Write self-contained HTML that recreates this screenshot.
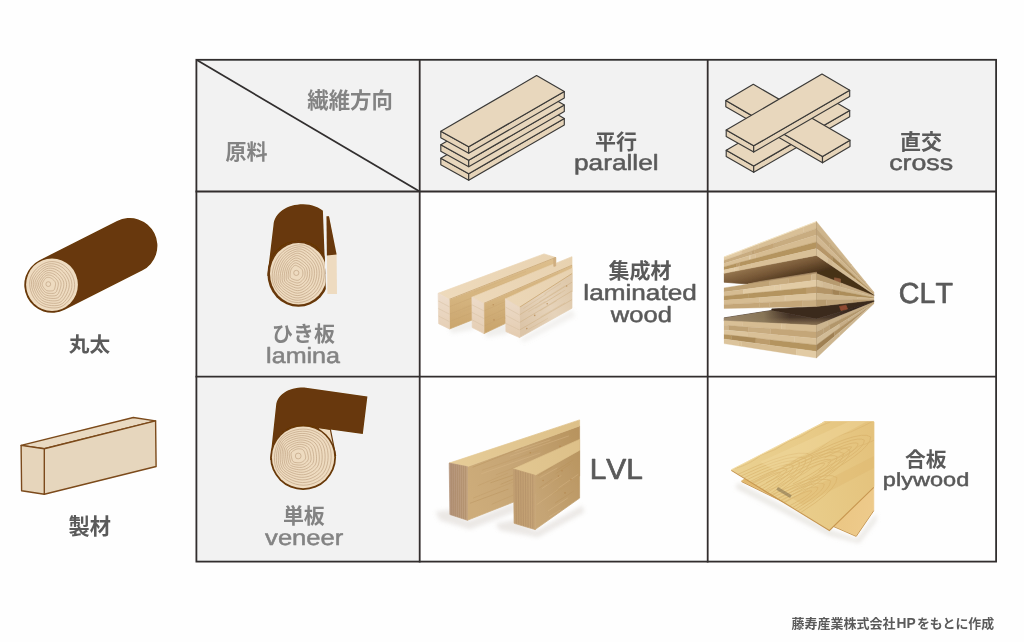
<!DOCTYPE html>
<html lang="ja">
<head>
<meta charset="utf-8">
<title>木質材料の分類 (繊維方向 × 原料)</title>
<style>
html,body{margin:0;padding:0;background:#fefefe;}
body{width:1024px;height:642px;overflow:hidden;font-family:"Liberation Sans",sans-serif;}
svg{display:block;}
.en{font-family:"Liberation Sans",sans-serif;text-rendering:geometricPrecision;font-kerning:none;}
.jp{font-family:"Liberation Sans","Noto Sans CJK JP",sans-serif;font-weight:bold;}
</style>
</head>
<body>
<svg width="1024" height="642" viewBox="0 0 1024 642">
<rect width="1024" height="642" fill="#fefefe"/>
<defs>
<filter id="txtsoft" filterUnits="userSpaceOnUse" x="0" y="0" width="1024" height="642"><feGaussianBlur stdDeviation="0.3"/></filter>
<filter id="soft" x="-5%" y="-5%" width="110%" height="110%"><feGaussianBlur stdDeviation="0.45"/></filter>
<filter id="shadow" x="-20%" y="-50%" width="140%" height="200%"><feGaussianBlur stdDeviation="2.2"/></filter>
<linearGradient id="glTop" gradientUnits="userSpaceOnUse" x1="440" y1="300" x2="572" y2="255"><stop offset="0" stop-color="#eedabc"/><stop offset="1" stop-color="#e8d2b0"/></linearGradient>
<linearGradient id="glSide" gradientUnits="userSpaceOnUse" x1="0" y1="262" x2="0" y2="334"><stop offset="0" stop-color="#dcbd8b"/><stop offset="0.5" stop-color="#d5b47f"/><stop offset="1" stop-color="#c8a36a"/></linearGradient>
<linearGradient id="glSide3" gradientUnits="userSpaceOnUse" x1="520" y1="322" x2="572" y2="290"><stop offset="0" stop-color="#dcc5a8"/><stop offset="0.55" stop-color="#e6d3ba"/><stop offset="1" stop-color="#dfc9ab"/></linearGradient>
<linearGradient id="glEnd" gradientUnits="userSpaceOnUse" x1="0" y1="295" x2="0" y2="338"><stop offset="0" stop-color="#eddccb"/><stop offset="1" stop-color="#e4ccb0"/></linearGradient>
<linearGradient id="lvTop" gradientUnits="userSpaceOnUse" x1="450" y1="465" x2="580" y2="422"><stop offset="0" stop-color="#e6cc98"/><stop offset="1" stop-color="#ddc088"/></linearGradient>
<linearGradient id="lvSide" gradientUnits="userSpaceOnUse" x1="467" y1="490" x2="580" y2="440"><stop offset="0" stop-color="#cdac7a"/><stop offset="0.5" stop-color="#c5a474"/><stop offset="1" stop-color="#b8945f"/></linearGradient>
<linearGradient id="lvEnd" gradientUnits="userSpaceOnUse" x1="449" y1="0" x2="468" y2="0"><stop offset="0" stop-color="#b3937a"/><stop offset="1" stop-color="#c0a07c"/></linearGradient>
<linearGradient id="lvEnd2" gradientUnits="userSpaceOnUse" x1="513" y1="0" x2="536" y2="0"><stop offset="0" stop-color="#c09d70"/><stop offset="1" stop-color="#c6a476"/></linearGradient>
<linearGradient id="plyTop" gradientUnits="userSpaceOnUse" x1="740" y1="470" x2="874" y2="440"><stop offset="0" stop-color="#ead090"/><stop offset="0.5" stop-color="#e8cb88"/><stop offset="1" stop-color="#e4c27c"/></linearGradient>
<linearGradient id="plyLow" gradientUnits="userSpaceOnUse" x1="745" y1="485" x2="874" y2="520"><stop offset="0" stop-color="#e2b96e"/><stop offset="1" stop-color="#eecb8c"/></linearGradient>
<linearGradient id="cltUnder" gradientUnits="userSpaceOnUse" x1="770" y1="262" x2="776" y2="284"><stop offset="0" stop-color="#93734c"/><stop offset="0.45" stop-color="#765736"/><stop offset="1" stop-color="#473019"/></linearGradient>
<linearGradient id="cltTop3" gradientUnits="userSpaceOnUse" x1="0" y1="309" x2="0" y2="326"><stop offset="0" stop-color="#33241a"/><stop offset="0.5" stop-color="#49372a"/><stop offset="0.85" stop-color="#7c6549"/><stop offset="1" stop-color="#8e7556"/></linearGradient>
<linearGradient id="cltTop3L" gradientUnits="userSpaceOnUse" x1="724" y1="0" x2="790" y2="0"><stop offset="0" stop-color="#9a866a"/><stop offset="0.6" stop-color="#93805f" stop-opacity="0.85"/><stop offset="1" stop-color="#8a7556" stop-opacity="0"/></linearGradient>
</defs>
<g id="table">
<rect x="196.4" y="59.8" width="799.7" height="131.7" fill="#f2f2f2"/>
<rect x="196.4" y="191.5" width="223.3" height="370.1" fill="#f2f2f2"/>
</g>
<g id="photos">
<g id="photo-glulam" filter="url(#soft)">
<g filter="url(#shadow)" fill="#d9d4cc" opacity="0.3"><polygon points="449,327 474,318 474,329 452,333" fill="#cfcac2" stroke="#cfcac2" stroke-width="0.7" stroke-linejoin="round"/>
<polygon points="484,331 508,322 508,333 487,337" fill="#cfcac2" stroke="#cfcac2" stroke-width="0.7" stroke-linejoin="round"/>
<polygon points="520,339 572,310 575,316 524,342" fill="#d6d1ca" stroke="#d6d1ca" stroke-width="0.7" stroke-linejoin="round"/>
</g>
<polygon points="449.2,299.4 555.7,257.5 555.7,287 449.5,329" fill="url(#glSide)" stroke="url(#glSide)" stroke-width="0.7" stroke-linejoin="round"/>
<line x1="449.3" y1="306.8" x2="555.7" y2="264.9" stroke="#c29f6c" stroke-width="0.6" opacity="0.55"/>
<line x1="449.4" y1="314.2" x2="555.7" y2="272.2" stroke="#c29f6c" stroke-width="0.6" opacity="0.55"/>
<line x1="449.4" y1="321.6" x2="555.7" y2="279.6" stroke="#c29f6c" stroke-width="0.6" opacity="0.55"/>
<line x1="488.8" y1="301.9" x2="537.6" y2="282.6" stroke="#c9a876" stroke-width="0.7" opacity="0.35"/>
<line x1="488.8" y1="310.5" x2="540.2" y2="290.1" stroke="#c9a876" stroke-width="0.7" opacity="0.35"/>
<line x1="474" y1="291.9" x2="526" y2="271.4" stroke="#c9a876" stroke-width="0.7" opacity="0.35"/>
<line x1="497.3" y1="299.3" x2="531.6" y2="285.7" stroke="#c9a876" stroke-width="0.7" opacity="0.35"/>
<line x1="462.5" y1="308.2" x2="505.9" y2="291.1" stroke="#c9a876" stroke-width="0.7" opacity="0.35"/>
<line x1="450.1" y1="315.9" x2="486.6" y2="301.5" stroke="#c9a876" stroke-width="0.7" opacity="0.35"/>
<line x1="498" y1="289.1" x2="546.3" y2="270.1" stroke="#c9a876" stroke-width="0.7" opacity="0.35"/>
<line x1="491.7" y1="288.4" x2="526.6" y2="274.7" stroke="#c9a876" stroke-width="0.7" opacity="0.35"/>
<line x1="456.1" y1="314.7" x2="488.1" y2="302.1" stroke="#c9a876" stroke-width="0.7" opacity="0.35"/>
<circle cx="534.1" cy="274.8" r="0.8" fill="#b98d58" opacity="0.8"/>
<circle cx="478.4" cy="312.8" r="0.8" fill="#b98d58" opacity="0.8"/>
<circle cx="534.2" cy="276.4" r="0.8" fill="#b98d58" opacity="0.8"/>
<circle cx="541.8" cy="278.5" r="0.8" fill="#b98d58" opacity="0.8"/>
<polygon points="438.1,293.3 544,253.9 555.7,257.5 449.2,299.4" fill="url(#glTop)" stroke="url(#glTop)" stroke-width="0.7" stroke-linejoin="round"/>
<line x1="449.2" y1="299.4" x2="555.7" y2="257.5" stroke="#c9a672" stroke-width="0.8"/>
<polygon points="438.1,293.3 449.2,299.4 449.5,329 438.7,323.7" fill="url(#glEnd)" stroke="url(#glEnd)" stroke-width="0.7" stroke-linejoin="round"/>
<line x1="438.2" y1="300.9" x2="449.3" y2="306.8" stroke="#d6bea0" stroke-width="0.7" opacity="0.7"/>
<line x1="438.4" y1="308.5" x2="449.4" y2="314.2" stroke="#d6bea0" stroke-width="0.7" opacity="0.7"/>
<line x1="438.6" y1="316.1" x2="449.4" y2="321.6" stroke="#d6bea0" stroke-width="0.7" opacity="0.7"/>
<polygon points="483.8,303.4 572,265.2 572,292 484,333.6" fill="url(#glSide)" stroke="url(#glSide)" stroke-width="0.7" stroke-linejoin="round"/>
<line x1="483.9" y1="310.9" x2="572" y2="271.9" stroke="#c29f6c" stroke-width="0.6" opacity="0.55"/>
<line x1="483.9" y1="318.5" x2="572" y2="278.6" stroke="#c29f6c" stroke-width="0.6" opacity="0.55"/>
<line x1="483.9" y1="326.1" x2="572" y2="285.3" stroke="#c29f6c" stroke-width="0.6" opacity="0.55"/>
<line x1="492.9" y1="319.2" x2="535.9" y2="299.4" stroke="#c9a876" stroke-width="0.7" opacity="0.35"/>
<line x1="526.5" y1="304.1" x2="568.7" y2="284.7" stroke="#c9a876" stroke-width="0.7" opacity="0.35"/>
<line x1="499.8" y1="305.9" x2="529.1" y2="292.8" stroke="#c9a876" stroke-width="0.7" opacity="0.35"/>
<line x1="486.7" y1="307.6" x2="518.5" y2="293.6" stroke="#c9a876" stroke-width="0.7" opacity="0.35"/>
<line x1="484.1" y1="321.2" x2="522.4" y2="303.7" stroke="#c9a876" stroke-width="0.7" opacity="0.35"/>
<line x1="497.5" y1="308" x2="538.4" y2="289.7" stroke="#c9a876" stroke-width="0.7" opacity="0.35"/>
<line x1="497.8" y1="311.7" x2="532.7" y2="295.9" stroke="#c9a876" stroke-width="0.7" opacity="0.35"/>
<line x1="486.4" y1="322.9" x2="530" y2="302.8" stroke="#c9a876" stroke-width="0.7" opacity="0.35"/>
<line x1="516.9" y1="291.1" x2="558.2" y2="273.1" stroke="#c9a876" stroke-width="0.7" opacity="0.35"/>
<circle cx="494" cy="319.9" r="0.8" fill="#b98d58" opacity="0.8"/>
<circle cx="518.5" cy="304.4" r="0.8" fill="#b98d58" opacity="0.8"/>
<circle cx="493.3" cy="304.8" r="0.8" fill="#b98d58" opacity="0.8"/>
<circle cx="505.5" cy="318.1" r="0.8" fill="#b98d58" opacity="0.8"/>
<polygon points="471.9,297.2 572,256.7 572,265.2 483.8,303.4" fill="url(#glTop)" stroke="url(#glTop)" stroke-width="0.7" stroke-linejoin="round"/>
<line x1="483.8" y1="303.4" x2="572" y2="265.2" stroke="#c9a672" stroke-width="0.8"/>
<polygon points="471.9,297.2 483.8,303.4 484,333.6 472.2,327.5" fill="url(#glEnd)" stroke="url(#glEnd)" stroke-width="0.7" stroke-linejoin="round"/>
<line x1="472" y1="304.8" x2="483.9" y2="310.9" stroke="#d6bea0" stroke-width="0.7" opacity="0.7"/>
<line x1="472" y1="312.4" x2="483.9" y2="318.5" stroke="#d6bea0" stroke-width="0.7" opacity="0.7"/>
<line x1="472.1" y1="319.9" x2="483.9" y2="326.1" stroke="#d6bea0" stroke-width="0.7" opacity="0.7"/>
<polygon points="519.5,307.3 572,273.6 572,308.2 519.5,337.6" fill="url(#glSide3)" stroke="url(#glSide3)" stroke-width="0.7" stroke-linejoin="round"/>
<line x1="519.5" y1="314.9" x2="572" y2="282.2" stroke="#c29f6c" stroke-width="0.6" opacity="0.55"/>
<line x1="519.5" y1="322.5" x2="572" y2="290.9" stroke="#c29f6c" stroke-width="0.6" opacity="0.55"/>
<line x1="519.5" y1="330" x2="572" y2="299.6" stroke="#c29f6c" stroke-width="0.6" opacity="0.55"/>
<line x1="539.3" y1="301.8" x2="564.8" y2="285.9" stroke="#c9a876" stroke-width="0.7" opacity="0.35"/>
<line x1="528.5" y1="329.4" x2="548" y2="318.3" stroke="#c9a876" stroke-width="0.7" opacity="0.35"/>
<line x1="539.9" y1="310.9" x2="556.7" y2="300.8" stroke="#c9a876" stroke-width="0.7" opacity="0.35"/>
<line x1="540.4" y1="317" x2="565.2" y2="302.6" stroke="#c9a876" stroke-width="0.7" opacity="0.35"/>
<line x1="544.3" y1="294" x2="561" y2="283.4" stroke="#c9a876" stroke-width="0.7" opacity="0.35"/>
<line x1="535.5" y1="308.3" x2="560.9" y2="292.7" stroke="#c9a876" stroke-width="0.7" opacity="0.35"/>
<line x1="543.8" y1="303.2" x2="565.2" y2="290.1" stroke="#c9a876" stroke-width="0.7" opacity="0.35"/>
<line x1="527.8" y1="312.2" x2="545.4" y2="301.4" stroke="#c9a876" stroke-width="0.7" opacity="0.35"/>
<line x1="523.4" y1="308.5" x2="546.4" y2="293.9" stroke="#c9a876" stroke-width="0.7" opacity="0.35"/>
<circle cx="566.6" cy="286" r="0.8" fill="#b98d58" opacity="0.8"/>
<circle cx="526.8" cy="328.6" r="0.8" fill="#b98d58" opacity="0.8"/>
<circle cx="547.2" cy="303.7" r="0.8" fill="#b98d58" opacity="0.8"/>
<circle cx="534.7" cy="315.4" r="0.8" fill="#b98d58" opacity="0.8"/>
<polygon points="505.4,298.9 572,268.4 572,273.6 519.5,307.3" fill="url(#glTop)" stroke="url(#glTop)" stroke-width="0.7" stroke-linejoin="round"/>
<line x1="519.5" y1="307.3" x2="572" y2="273.6" stroke="#c9a672" stroke-width="0.8"/>
<polygon points="505.4,298.9 519.5,307.3 519.5,337.6 505.9,331.6" fill="url(#glEnd)" stroke="url(#glEnd)" stroke-width="0.7" stroke-linejoin="round"/>
<line x1="505.5" y1="307.1" x2="519.5" y2="314.9" stroke="#d6bea0" stroke-width="0.7" opacity="0.7"/>
<line x1="505.6" y1="315.2" x2="519.5" y2="322.5" stroke="#d6bea0" stroke-width="0.7" opacity="0.7"/>
<line x1="505.8" y1="323.4" x2="519.5" y2="330" stroke="#d6bea0" stroke-width="0.7" opacity="0.7"/>
<polygon points="555.7,257.5 555.7,266 553.8,266.4 553.6,258.2" fill="#cfae80" stroke="#cfae80" stroke-width="0.7" stroke-linejoin="round"/>
</g>
<g id="photo-clt" filter="url(#soft)">
<clipPath id="cltClip"><rect x="723.8" y="215" width="151.5" height="150"/></clipPath>
<g clip-path="url(#cltClip)">
<polygon points="723.8,273.2 816.5,255.4 873.8,294.5 873.8,296 816.5,273.4 748,284 723.8,282.2" fill="url(#cltUnder)" stroke="url(#cltUnder)" stroke-width="0.7" stroke-linejoin="round"/>
<polygon points="748,284 816.5,273.4 816.5,272.2 760,281.5" fill="#a98d68" stroke="#a98d68" stroke-width="0.7" stroke-linejoin="round"/>
<polygon points="771.8,308.9 816.5,306.5 873.8,300.3 873.8,302 816.5,319 771.8,310.6" fill="#3b2a1b" stroke="#3b2a1b" stroke-width="0.7" stroke-linejoin="round"/>
<polygon points="723.8,317.9 771.8,310.4 816.5,319 873.8,302 816.5,325.3 723.8,320.9" fill="url(#cltTop3)" stroke="url(#cltTop3)" stroke-width="0.7" stroke-linejoin="round"/>
<polygon points="723.8,317.9 771.8,310.4 790,313.6 790,324 723.8,320.9" fill="url(#cltTop3L)"/>
<polygon points="839.5,306.4 846,305.2 847.5,309 841,310.6" fill="#8e4a30" stroke="#8e4a30" stroke-width="0.7" stroke-linejoin="round"/>
<polygon points="834.5,277.8 840.5,279 840.5,282.2 834.5,281.2" fill="#8e5a3a" stroke="#8e5a3a" stroke-width="0.7" stroke-linejoin="round"/>
<polygon points="723.8,320.7 742.2,321.6 742.2,326.6 723.8,325.3" fill="#d9c097" stroke="#d9c097" stroke-width="0.35"/>
<polygon points="742.2,321.6 781.4,323.6 781.4,329.4 742.2,326.6" fill="#d6bc92" stroke="#d6bc92" stroke-width="0.35"/>
<polygon points="781.4,323.6 786,323.8 786,329.7 781.4,329.4" fill="#d9c097" stroke="#d9c097" stroke-width="0.35"/>
<polygon points="786,323.8 816.5,325.3 816.5,331.8 786,329.7" fill="#d6bc92" stroke="#d6bc92" stroke-width="0.35"/>
<polygon points="723.8,325.3 728.7,325.6 728.7,330.3 723.8,329.9" fill="#cfb48a" stroke="#cfb48a" stroke-width="0.35"/>
<polygon points="728.7,325.6 748.1,327 748.1,332.1 728.7,330.3" fill="#bfa274" stroke="#bfa274" stroke-width="0.35"/>
<polygon points="748.1,327 770.6,328.6 770.6,334.2 748.1,332.1" fill="#c8ac80" stroke="#c8ac80" stroke-width="0.35"/>
<polygon points="770.6,328.6 816.5,331.8 816.5,338.4 770.6,334.2" fill="#c4a678" stroke="#c4a678" stroke-width="0.35"/>
<polygon points="723.8,329.9 747.8,332.1 747.8,337.2 723.8,334.4" fill="#dcc49c" stroke="#dcc49c" stroke-width="0.35"/>
<polygon points="747.8,332.1 747.8,332.1 747.8,337.2 747.8,337.2" fill="#d9c097" stroke="#d9c097" stroke-width="0.35"/>
<polygon points="747.8,332.1 794.7,336.4 794.7,342.5 747.8,337.2" fill="#d9c097" stroke="#d9c097" stroke-width="0.35"/>
<polygon points="794.7,336.4 816.5,338.4 816.5,344.9 794.7,342.5" fill="#d9c097" stroke="#d9c097" stroke-width="0.35"/>
<polygon points="723.8,334.4 731.3,335.3 731.3,340 723.8,339" fill="#b4945f" stroke="#b4945f" stroke-width="0.35"/>
<polygon points="731.3,335.3 755.9,338.1 755.9,343.3 731.3,340" fill="#aa8a58" stroke="#aa8a58" stroke-width="0.35"/>
<polygon points="755.9,338.1 769.9,339.7 769.9,345.2 755.9,343.3" fill="#bc9c6c" stroke="#bc9c6c" stroke-width="0.35"/>
<polygon points="769.9,339.7 816.5,344.9 816.5,351.5 769.9,345.2" fill="#b4945f" stroke="#b4945f" stroke-width="0.35"/>
<polygon points="723.8,339 738.9,341 738.9,345.9 723.8,343.6" fill="#dcc49c" stroke="#dcc49c" stroke-width="0.35"/>
<polygon points="738.9,341 741.4,341.4 741.4,346.3 738.9,345.9" fill="#d9c097" stroke="#d9c097" stroke-width="0.35"/>
<polygon points="741.4,341.4 796.6,348.8 796.6,354.9 741.4,346.3" fill="#d6bc92" stroke="#d6bc92" stroke-width="0.35"/>
<polygon points="796.6,348.8 816.5,351.5 816.5,358 796.6,354.9" fill="#e2cba4" stroke="#e2cba4" stroke-width="0.35"/>
<polygon points="816.5,325.3 827.2,321 827.2,326.4 816.5,331.8" fill="#ccb58f" stroke="#ccb58f" stroke-width="0.35"/>
<polygon points="827.2,321 840.1,315.7 840.1,319.7 827.2,326.4" fill="#c9b18a" stroke="#c9b18a" stroke-width="0.35"/>
<polygon points="840.1,315.7 873.8,302 873.8,302.4 840.1,319.7" fill="#c7ad86" stroke="#c7ad86" stroke-width="0.35"/>
<polygon points="816.5,331.8 823.2,328.4 823.2,334.2 816.5,338.4" fill="#ba9f76" stroke="#ba9f76" stroke-width="0.35"/>
<polygon points="823.2,328.4 829.5,325.1 829.5,330.3 823.2,334.2" fill="#ba9f76" stroke="#ba9f76" stroke-width="0.35"/>
<polygon points="829.5,325.1 873.8,302.4 873.8,302.7 829.5,330.3" fill="#b2966b" stroke="#b2966b" stroke-width="0.35"/>
<polygon points="816.5,338.4 839.4,324.1 839.4,328.2 816.5,344.9" fill="#d1bb96" stroke="#d1bb96" stroke-width="0.35"/>
<polygon points="839.4,324.1 848.2,318.7 848.2,321.8 839.4,328.2" fill="#c7ad86" stroke="#c7ad86" stroke-width="0.35"/>
<polygon points="848.2,318.7 873.8,302.7 873.8,303.1 848.2,321.8" fill="#c9b18a" stroke="#c9b18a" stroke-width="0.35"/>
<polygon points="816.5,344.9 834.4,331.8 834.4,336.4 816.5,351.5" fill="#9f8052" stroke="#9f8052" stroke-width="0.35"/>
<polygon points="834.4,331.8 868.6,306.9 868.6,307.8 834.4,336.4" fill="#af9164" stroke="#af9164" stroke-width="0.35"/>
<polygon points="868.6,306.9 873.8,303.1 873.8,303.4 868.6,307.8" fill="#af9164" stroke="#af9164" stroke-width="0.35"/>
<polygon points="816.5,351.5 839.3,332.4 839.3,336.4 816.5,358" fill="#ccb58f" stroke="#ccb58f" stroke-width="0.35"/>
<polygon points="839.3,332.4 870.7,306.1 870.7,306.8 839.3,336.4" fill="#ccb58f" stroke="#ccb58f" stroke-width="0.35"/>
<polygon points="870.7,306.1 873.8,303.4 873.8,303.8 870.7,306.8" fill="#c7ad86" stroke="#c7ad86" stroke-width="0.35"/>
<polygon points="723.8,287.9 769.8,280.7 769.8,286.1 723.8,292" fill="#bfa274" stroke="#bfa274" stroke-width="0.35"/>
<polygon points="769.8,280.7 788.3,277.8 788.3,283.7 769.8,286.1" fill="#c8ac80" stroke="#c8ac80" stroke-width="0.35"/>
<polygon points="788.3,277.8 811.3,274.2 811.3,280.7 788.3,283.7" fill="#c4a678" stroke="#c4a678" stroke-width="0.35"/>
<polygon points="811.3,274.2 816.5,273.4 816.5,280 811.3,280.7" fill="#cfb48a" stroke="#cfb48a" stroke-width="0.35"/>
<polygon points="723.8,292 743.5,289.5 743.5,294.2 723.8,296.2" fill="#d6bc92" stroke="#d6bc92" stroke-width="0.35"/>
<polygon points="743.5,289.5 774.9,285.4 774.9,290.9 743.5,294.2" fill="#e2cba4" stroke="#e2cba4" stroke-width="0.35"/>
<polygon points="774.9,285.4 780.4,284.7 780.4,290.4 774.9,290.9" fill="#e2cba4" stroke="#e2cba4" stroke-width="0.35"/>
<polygon points="780.4,284.7 816.5,280 816.5,286.6 780.4,290.4" fill="#e2cba4" stroke="#e2cba4" stroke-width="0.35"/>
<polygon points="723.8,296.2 748.9,293.6 748.9,298.4 723.8,300.3" fill="#b4945f" stroke="#b4945f" stroke-width="0.35"/>
<polygon points="748.9,293.6 792,289.2 792,295.1 748.9,298.4" fill="#b4945f" stroke="#b4945f" stroke-width="0.35"/>
<polygon points="792,289.2 806,287.7 806,294.1 792,295.1" fill="#b4945f" stroke="#b4945f" stroke-width="0.35"/>
<polygon points="806,287.7 816.5,286.6 816.5,293.3 806,294.1" fill="#bc9c6c" stroke="#bc9c6c" stroke-width="0.35"/>
<polygon points="723.8,300.3 759.7,297.6 759.7,302.7 723.8,304.5" fill="#d6bc92" stroke="#d6bc92" stroke-width="0.35"/>
<polygon points="759.7,297.6 784.8,295.7 784.8,301.4 759.7,302.7" fill="#d9c097" stroke="#d9c097" stroke-width="0.35"/>
<polygon points="784.8,295.7 785.4,295.6 785.4,301.4 784.8,301.4" fill="#d6bc92" stroke="#d6bc92" stroke-width="0.35"/>
<polygon points="785.4,295.6 816.5,293.3 816.5,299.9 785.4,301.4" fill="#dcc49c" stroke="#dcc49c" stroke-width="0.35"/>
<polygon points="723.8,304.5 759.8,302.7 759.8,307.8 723.8,308.6" fill="#c4a678" stroke="#c4a678" stroke-width="0.35"/>
<polygon points="759.8,302.7 769.4,302.2 769.4,307.6 759.8,307.8" fill="#c4a678" stroke="#c4a678" stroke-width="0.35"/>
<polygon points="769.4,302.2 802.1,300.6 802.1,306.8 769.4,307.6" fill="#c4a678" stroke="#c4a678" stroke-width="0.35"/>
<polygon points="802.1,300.6 816.5,299.9 816.5,306.5 802.1,306.8" fill="#c8ac80" stroke="#c8ac80" stroke-width="0.35"/>
<polygon points="816.5,273.4 840.4,282.7 840.4,286.9 816.5,280" fill="#b69a6e" stroke="#b69a6e" stroke-width="0.35"/>
<polygon points="840.4,282.7 842,283.3 842,287.4 840.4,286.9" fill="#bea379" stroke="#bea379" stroke-width="0.35"/>
<polygon points="842,283.3 873.8,295.6 873.8,296.5 842,287.4" fill="#c5aa82" stroke="#c5aa82" stroke-width="0.35"/>
<polygon points="816.5,280 822.1,281.6 822.1,287.7 816.5,286.6" fill="#d6c09a" stroke="#d6c09a" stroke-width="0.35"/>
<polygon points="822.1,281.6 832.7,284.7 832.7,289.7 822.1,287.7" fill="#d1b993" stroke="#d1b993" stroke-width="0.35"/>
<polygon points="832.7,284.7 873.8,296.5 873.8,297.5 832.7,289.7" fill="#ceb68e" stroke="#ceb68e" stroke-width="0.35"/>
<polygon points="816.5,286.6 832.2,289.6 832.2,294.7 816.5,293.3" fill="#b39466" stroke="#b39466" stroke-width="0.35"/>
<polygon points="832.2,289.6 839.7,291 839.7,295.4 832.2,294.7" fill="#a28354" stroke="#a28354" stroke-width="0.35"/>
<polygon points="839.7,291 873.8,297.5 873.8,298.4 839.7,295.4" fill="#ac8d5a" stroke="#ac8d5a" stroke-width="0.35"/>
<polygon points="816.5,293.3 857.8,297 857.8,299.5 816.5,299.9" fill="#ceb68e" stroke="#ceb68e" stroke-width="0.35"/>
<polygon points="857.8,297 870.1,298.1 870.1,299.4 857.8,299.5" fill="#d1b993" stroke="#d1b993" stroke-width="0.35"/>
<polygon points="870.1,298.1 873.8,298.4 873.8,299.4 870.1,299.4" fill="#d6c09a" stroke="#d6c09a" stroke-width="0.35"/>
<polygon points="816.5,299.9 826.6,299.8 826.6,305.4 816.5,306.5" fill="#b69a6e" stroke="#b69a6e" stroke-width="0.35"/>
<polygon points="826.6,299.8 852.9,299.5 852.9,302.6 826.6,305.4" fill="#bea379" stroke="#bea379" stroke-width="0.35"/>
<polygon points="852.9,299.5 873.8,299.4 873.8,300.3 852.9,302.6" fill="#ba9d71" stroke="#ba9d71" stroke-width="0.35"/>
<polygon points="723.8,257.1 741.3,250.4 741.3,254.3 723.8,260.4" fill="#e2cba4" stroke="#e2cba4" stroke-width="0.35"/>
<polygon points="741.3,250.4 758.9,243.6 758.9,248.2 741.3,254.3" fill="#d9c097" stroke="#d9c097" stroke-width="0.35"/>
<polygon points="758.9,243.6 803.5,226.6 803.5,232.9 758.9,248.2" fill="#d9c097" stroke="#d9c097" stroke-width="0.35"/>
<polygon points="803.5,226.6 816.5,221.6 816.5,228.4 803.5,232.9" fill="#d9c097" stroke="#d9c097" stroke-width="0.35"/>
<polygon points="723.8,260.4 751.5,250.8 751.5,255.1 723.8,263.6" fill="#c8ac80" stroke="#c8ac80" stroke-width="0.35"/>
<polygon points="751.5,250.8 754.1,249.9 754.1,254.3 751.5,255.1" fill="#bfa274" stroke="#bfa274" stroke-width="0.35"/>
<polygon points="754.1,249.9 773,243.4 773,248.5 754.1,254.3" fill="#c4a678" stroke="#c4a678" stroke-width="0.35"/>
<polygon points="773,243.4 816.5,228.4 816.5,235.1 773,248.5" fill="#c8ac80" stroke="#c8ac80" stroke-width="0.35"/>
<polygon points="723.8,263.6 749.3,255.8 749.3,260 723.8,266.9" fill="#d9c097" stroke="#d9c097" stroke-width="0.35"/>
<polygon points="749.3,255.8 750.5,255.4 750.5,259.7 749.3,260" fill="#e2cba4" stroke="#e2cba4" stroke-width="0.35"/>
<polygon points="750.5,255.4 755.6,253.8 755.6,258.3 750.5,259.7" fill="#d9c097" stroke="#d9c097" stroke-width="0.35"/>
<polygon points="755.6,253.8 816.5,235.1 816.5,241.9 755.6,258.3" fill="#d6bc92" stroke="#d6bc92" stroke-width="0.35"/>
<polygon points="723.8,266.9 736.3,263.5 736.3,267.2 723.8,270.1" fill="#b4945f" stroke="#b4945f" stroke-width="0.35"/>
<polygon points="736.3,263.5 736.3,263.5 736.3,267.2 736.3,267.2" fill="#aa8a58" stroke="#aa8a58" stroke-width="0.35"/>
<polygon points="736.3,263.5 739.6,262.6 739.6,266.5 736.3,267.2" fill="#bc9c6c" stroke="#bc9c6c" stroke-width="0.35"/>
<polygon points="739.6,262.6 816.5,241.9 816.5,248.6 739.6,266.5" fill="#b4945f" stroke="#b4945f" stroke-width="0.35"/>
<polygon points="723.8,270.1 734.4,267.7 734.4,271.3 723.8,273.4" fill="#e2cba4" stroke="#e2cba4" stroke-width="0.35"/>
<polygon points="734.4,267.7 738.4,266.8 738.4,270.6 734.4,271.3" fill="#e2cba4" stroke="#e2cba4" stroke-width="0.35"/>
<polygon points="738.4,266.8 751.9,263.6 751.9,267.9 738.4,270.6" fill="#d9c097" stroke="#d9c097" stroke-width="0.35"/>
<polygon points="751.9,263.6 816.5,248.6 816.5,255.4 751.9,267.9" fill="#d9c097" stroke="#d9c097" stroke-width="0.35"/>
<polygon points="816.5,221.6 851.4,264.5 851.4,267.5 816.5,228.4" fill="#ceb58c" stroke="#ceb58c" stroke-width="0.35"/>
<polygon points="851.4,264.5 865.2,281.5 865.2,282.9 851.4,267.5" fill="#ceb58c" stroke="#ceb58c" stroke-width="0.35"/>
<polygon points="865.2,281.5 873.8,292.1 873.8,292.6 865.2,282.9" fill="#d1b891" stroke="#d1b891" stroke-width="0.35"/>
<polygon points="816.5,228.4 829.8,243.2 829.8,248.5 816.5,235.1" fill="#c1a67b" stroke="#c1a67b" stroke-width="0.35"/>
<polygon points="829.8,243.2 857.7,274.6 857.7,276.8 829.8,248.5" fill="#c1a67b" stroke="#c1a67b" stroke-width="0.35"/>
<polygon points="857.7,274.6 873.8,292.6 873.8,293.1 857.7,276.8" fill="#c1a67b" stroke="#c1a67b" stroke-width="0.35"/>
<polygon points="816.5,235.1 839.4,258.2 839.4,262.5 816.5,241.9" fill="#d1b891" stroke="#d1b891" stroke-width="0.35"/>
<polygon points="839.4,258.2 863.9,283.1 863.9,284.7 839.4,262.5" fill="#ceb58c" stroke="#ceb58c" stroke-width="0.35"/>
<polygon points="863.9,283.1 873.8,293.1 873.8,293.5 863.9,284.7" fill="#ceb58c" stroke="#ceb58c" stroke-width="0.35"/>
<polygon points="816.5,241.9 832.4,256.2 832.4,261.2 816.5,248.6" fill="#b69668" stroke="#b69668" stroke-width="0.35"/>
<polygon points="832.4,256.2 855.3,276.9 855.3,279.4 832.4,261.2" fill="#a48555" stroke="#a48555" stroke-width="0.35"/>
<polygon points="855.3,276.9 873.8,293.5 873.8,294 855.3,279.4" fill="#ae8f5b" stroke="#ae8f5b" stroke-width="0.35"/>
<polygon points="816.5,248.6 827.4,257.3 827.4,262.9 816.5,255.4" fill="#dac39d" stroke="#dac39d" stroke-width="0.35"/>
<polygon points="827.4,257.3 832,260.9 832,266 827.4,262.9" fill="#d1b891" stroke="#d1b891" stroke-width="0.35"/>
<polygon points="832,260.9 873.8,294 873.8,294.5 832,266" fill="#d4bc95" stroke="#d4bc95" stroke-width="0.35"/>
<line x1="723.8" y1="257.1" x2="816.5" y2="221.6" stroke="#f3e4c4" stroke-width="0.9"/>
<line x1="816.5" y1="221.6" x2="816.5" y2="255.4" stroke="#a58a62" stroke-width="0.6" opacity="0.7"/>
<line x1="816.5" y1="273.4" x2="816.5" y2="306.5" stroke="#a58a62" stroke-width="0.6" opacity="0.7"/>
<line x1="816.5" y1="325.3" x2="816.5" y2="358" stroke="#a58a62" stroke-width="0.6" opacity="0.7"/>
</g></g>
<g id="photo-lvl" filter="url(#soft)">
<g filter="url(#shadow)" opacity="0.45"><polygon points="436,512 450,510 468,521 514,503 514,512 470,529 440,520" fill="#d4cfc8" stroke="#d4cfc8" stroke-width="0.7" stroke-linejoin="round"/>
<polygon points="496,524 514,520 536,531 582,506 584,512 538,537 500,530" fill="#d4cfc8" stroke="#d4cfc8" stroke-width="0.7" stroke-linejoin="round"/>
</g>
<polygon points="467.4,466.6 579.6,425.9 579.6,476 467.4,520.3" fill="url(#lvSide)" stroke="url(#lvSide)" stroke-width="0.7" stroke-linejoin="round"/>
<line x1="490.4" y1="482.9" x2="523.9" y2="471.4" stroke="#b8925c" stroke-width="0.8" opacity="0.55"/>
<line x1="496" y1="474.8" x2="547.8" y2="454.9" stroke="#bf9b66" stroke-width="0.8" opacity="0.55"/>
<line x1="512.3" y1="486" x2="547" y2="474.1" stroke="#bf9b66" stroke-width="0.8" opacity="0.55"/>
<line x1="477.8" y1="485.7" x2="507.9" y2="473.2" stroke="#bf9b66" stroke-width="0.8" opacity="0.55"/>
<line x1="509.9" y1="456.3" x2="568.9" y2="435.9" stroke="#d8b888" stroke-width="0.8" opacity="0.55"/>
<line x1="481.2" y1="473.8" x2="540.4" y2="453" stroke="#d8b888" stroke-width="0.8" opacity="0.55"/>
<line x1="491.9" y1="504.2" x2="533.3" y2="486.6" stroke="#bf9b66" stroke-width="0.8" opacity="0.55"/>
<line x1="521.7" y1="491.4" x2="551.9" y2="479.2" stroke="#d8b888" stroke-width="0.8" opacity="0.55"/>
<line x1="482" y1="470.2" x2="539" y2="450.4" stroke="#bf9b66" stroke-width="0.8" opacity="0.55"/>
<line x1="514.6" y1="451.8" x2="550.4" y2="439.8" stroke="#d8b888" stroke-width="0.8" opacity="0.55"/>
<line x1="472.6" y1="467.3" x2="521.8" y2="447.8" stroke="#b8925c" stroke-width="0.8" opacity="0.55"/>
<line x1="500.6" y1="484.4" x2="536.4" y2="469.4" stroke="#b8925c" stroke-width="0.8" opacity="0.55"/>
<line x1="473.2" y1="498.1" x2="524" y2="477.6" stroke="#bf9b66" stroke-width="0.8" opacity="0.55"/>
<line x1="469.9" y1="503.3" x2="508.6" y2="489" stroke="#b8925c" stroke-width="0.8" opacity="0.55"/>
<circle cx="545.5" cy="472.4" r="0.8" fill="#b3854c" opacity="0.7"/>
<circle cx="530.3" cy="452.8" r="0.8" fill="#b3854c" opacity="0.7"/>
<circle cx="556.6" cy="456.2" r="0.8" fill="#b3854c" opacity="0.7"/>
<circle cx="560" cy="446.4" r="0.8" fill="#b3854c" opacity="0.7"/>
<circle cx="523.9" cy="480.6" r="0.8" fill="#b3854c" opacity="0.7"/>
<polygon points="449.2,463.1 579.6,419.9 579.6,425.9 467.4,466.6" fill="url(#lvTop)" stroke="url(#lvTop)" stroke-width="0.7" stroke-linejoin="round"/>
<polygon points="449.2,463.1 467.4,466.6 467.4,520.3 449.9,514.5" fill="url(#lvEnd)" stroke="url(#lvEnd)" stroke-width="0.7" stroke-linejoin="round"/>
<line x1="451.2" y1="463.5" x2="451.8" y2="515.1" stroke="#a5835f" stroke-width="0.55" opacity="0.7"/>
<line x1="453.2" y1="463.9" x2="453.8" y2="515.8" stroke="#a5835f" stroke-width="0.55" opacity="0.7"/>
<line x1="455.3" y1="464.3" x2="455.7" y2="516.4" stroke="#a5835f" stroke-width="0.55" opacity="0.7"/>
<line x1="457.3" y1="464.7" x2="457.7" y2="517.1" stroke="#a5835f" stroke-width="0.55" opacity="0.7"/>
<line x1="459.3" y1="465" x2="459.6" y2="517.7" stroke="#a5835f" stroke-width="0.55" opacity="0.7"/>
<line x1="461.3" y1="465.4" x2="461.6" y2="518.4" stroke="#a5835f" stroke-width="0.55" opacity="0.7"/>
<line x1="463.4" y1="465.8" x2="463.5" y2="519" stroke="#a5835f" stroke-width="0.55" opacity="0.7"/>
<line x1="465.4" y1="466.2" x2="465.5" y2="519.7" stroke="#a5835f" stroke-width="0.55" opacity="0.7"/>
<polygon points="535.1,475.2 579.6,450.2 579.6,498.1 535.1,529.6" fill="url(#lvSide)" stroke="url(#lvSide)" stroke-width="0.7" stroke-linejoin="round"/>
<line x1="547.9" y1="511" x2="567.8" y2="498" stroke="#d8b888" stroke-width="0.8" opacity="0.55"/>
<line x1="556.7" y1="470.3" x2="573.5" y2="459.7" stroke="#b8925c" stroke-width="0.8" opacity="0.55"/>
<line x1="549.2" y1="516.9" x2="560.6" y2="509.8" stroke="#d8b888" stroke-width="0.8" opacity="0.55"/>
<line x1="537.8" y1="475.9" x2="552.4" y2="466.9" stroke="#b8925c" stroke-width="0.8" opacity="0.55"/>
<line x1="542.1" y1="488.5" x2="561.3" y2="475.5" stroke="#d8b888" stroke-width="0.8" opacity="0.55"/>
<line x1="554.9" y1="503.2" x2="573.7" y2="491.1" stroke="#b8925c" stroke-width="0.8" opacity="0.55"/>
<line x1="536.7" y1="504.7" x2="557.9" y2="489.8" stroke="#d8b888" stroke-width="0.8" opacity="0.55"/>
<line x1="558.5" y1="488" x2="578.3" y2="474.3" stroke="#d8b888" stroke-width="0.8" opacity="0.55"/>
<line x1="555.7" y1="473.7" x2="570.9" y2="463.5" stroke="#b8925c" stroke-width="0.8" opacity="0.55"/>
<line x1="539.1" y1="488.1" x2="552.1" y2="479.2" stroke="#b8925c" stroke-width="0.8" opacity="0.55"/>
<line x1="540.2" y1="477.5" x2="557.4" y2="467.9" stroke="#d8b888" stroke-width="0.8" opacity="0.55"/>
<line x1="546.9" y1="484.5" x2="562.3" y2="476.5" stroke="#bf9b66" stroke-width="0.8" opacity="0.55"/>
<line x1="552.1" y1="494.3" x2="564.3" y2="486.3" stroke="#bf9b66" stroke-width="0.8" opacity="0.55"/>
<line x1="554.6" y1="493" x2="574.8" y2="480.8" stroke="#bf9b66" stroke-width="0.8" opacity="0.55"/>
<circle cx="565" cy="492.9" r="0.8" fill="#b3854c" opacity="0.7"/>
<circle cx="570.9" cy="479.5" r="0.8" fill="#b3854c" opacity="0.7"/>
<circle cx="543.1" cy="480.5" r="0.8" fill="#b3854c" opacity="0.7"/>
<circle cx="558.4" cy="476" r="0.8" fill="#b3854c" opacity="0.7"/>
<circle cx="562" cy="470.7" r="0.8" fill="#b3854c" opacity="0.7"/>
<polygon points="513.4,468.9 579.6,439.4 579.6,450.2 535.1,475.2" fill="url(#lvTop)" stroke="url(#lvTop)" stroke-width="0.7" stroke-linejoin="round"/>
<polygon points="513.4,468.9 535.1,475.2 535.1,529.6 514.1,523.3" fill="url(#lvEnd2)" stroke="url(#lvEnd2)" stroke-width="0.7" stroke-linejoin="round"/>
<line x1="515.8" y1="469.6" x2="516.4" y2="524" stroke="#a5835f" stroke-width="0.55" opacity="0.7"/>
<line x1="518.2" y1="470.3" x2="518.8" y2="524.7" stroke="#a5835f" stroke-width="0.55" opacity="0.7"/>
<line x1="520.6" y1="471" x2="521.1" y2="525.4" stroke="#a5835f" stroke-width="0.55" opacity="0.7"/>
<line x1="523" y1="471.7" x2="523.4" y2="526.1" stroke="#a5835f" stroke-width="0.55" opacity="0.7"/>
<line x1="525.5" y1="472.4" x2="525.8" y2="526.8" stroke="#a5835f" stroke-width="0.55" opacity="0.7"/>
<line x1="527.9" y1="473.1" x2="528.1" y2="527.5" stroke="#a5835f" stroke-width="0.55" opacity="0.7"/>
<line x1="530.3" y1="473.8" x2="530.4" y2="528.2" stroke="#a5835f" stroke-width="0.55" opacity="0.7"/>
<line x1="532.7" y1="474.5" x2="532.8" y2="528.9" stroke="#a5835f" stroke-width="0.55" opacity="0.7"/>
</g>
<g id="photo-plywood" filter="url(#soft)">
<g filter="url(#shadow)" opacity="0.5"><polygon points="738,483 830,530 857,539 876,514 876,521 859,543 828,535 736,488" fill="#d8d3cc" stroke="#d8d3cc" stroke-width="0.7" stroke-linejoin="round"/>
</g>
<polygon points="741.5,481 824,421.8 873.8,421.8 873.8,510 856.2,535.8 833.7,526" fill="url(#plyLow)" stroke="url(#plyLow)" stroke-width="0.7" stroke-linejoin="round"/>
<polyline points="741.5,481.6 833.7,526.6 856.2,536.4 873.8,510.6" fill="none" stroke="#c99a55" stroke-width="1"/>
<polygon points="731.3,469.9 824.8,421.8 873.8,421.8 873.8,486.7 829.4,529.9" fill="url(#plyTop)" stroke="url(#plyTop)" stroke-width="0.7" stroke-linejoin="round"/>
<clipPath id="plyClip"><polygon points="731.3,469.9 824.8,421.8 873.8,421.8 873.8,486.7 829.4,529.9"/></clipPath>
<g clip-path="url(#plyClip)" fill="none" stroke="#cfa45c" stroke-width="0.8" opacity="0.5">
<path d="M751.1,484.6 Q777.3,470.6 780.7,472.4 Q780.2,476.2 753.9,489.9"/>
<path d="M739.2,487.2 Q780.9,464.9 787,469 Q787,476.4 745,498.1"/>
<path d="M727.4,489.8 Q784.5,459.2 793.4,465.7 Q793.7,476.7 736.1,506.4"/>
<path d="M715.6,492.4 Q788.1,453.5 799.7,462.4 Q800.4,476.9 727.3,514.7"/>
<path d="M703.7,495 Q791.8,447.8 806,459.1 Q807.2,477.2 718.4,523"/>
<path d="M691.9,497.6 Q795.4,442.1 812.3,455.7 Q813.9,477.5 709.5,531.2"/>
<path d="M789.7,477.8 Q820.6,461.3 824.7,463.4 Q824.1,467.8 792.9,484"/>
<path d="M777.8,480.4 Q824.3,455.6 831,460 Q830.8,468.1 784.1,492.3"/>
<path d="M766,483 Q827.9,449.9 837.3,456.7 Q837.5,468.3 775.2,500.5"/>
<path d="M754.1,485.6 Q831.5,444.2 843.6,453.4 Q844.3,468.6 766.3,508.8"/>
<path d="M742.3,488.2 Q835.1,438.5 850,450.1 Q851,468.8 757.5,517.1"/>
<path d="M779.5,504.4 Q808.1,489.2 811.7,490.9 Q811,494.8 782.3,509.7"/>
<path d="M767.6,507 Q811.7,483.5 818,487.5 Q817.8,495 773.4,518"/>
<path d="M755.8,509.6 Q815.3,477.8 824.3,484.2 Q824.5,495.3 764.5,526.2"/>
<path d="M744,512.2 Q818.9,472.1 830.7,480.9 Q831.2,495.5 755.7,534.5"/>
<path d="M732.1,514.8 Q822.6,466.4 837,477.6 Q838,495.8 746.8,542.8"/>
<path d="M824.7,457.7 Q848.5,445 851.7,446.9 Q851.4,450.6 827.5,463"/>
<path d="M812.8,460.3 Q852.1,439.3 858.1,443.6 Q858.2,450.9 818.6,471.3"/>
<path d="M801,462.9 Q855.7,433.6 864.4,440.2 Q864.9,451.1 809.7,479.6"/>
<path d="M789.1,465.5 Q859.3,427.9 870.7,436.9 Q871.6,451.4 800.9,487.8"/>
<path d="M718.5,438.5 q11.7,-9.7 27,-13.5 q12.7,-7.3 27,-13.5 q11.9,-9.3 27,-13.5 q11.6,-10 27,-13.5 q12.7,-7.3 27,-13.5 q14.3,-3.2 27,-13.5" opacity="0.7"/>
<path d="M727.9,456.6 q13.8,-4.4 27,-13.5 q12.1,-8.7 27,-13.5 q13.1,-6.2 27,-13.5 q12.3,-8.3 27,-13.5 q12,-9.1 27,-13.5 q11.7,-9.7 27,-13.5" opacity="0.7"/>
<path d="M734.2,468.5 q14.4,-3.1 27,-13.5 q14.1,-3.9 27,-13.5 q14,-4 27,-13.5 q14,-4.1 27,-13.5 q12,-9 27,-13.5 q12.4,-8 27,-13.5" opacity="0.7"/>
<path d="M743.3,485.7 q13.7,-4.6 27,-13.5 q14.1,-3.7 27,-13.5 q14.2,-3.5 27,-13.5 q11.7,-9.8 27,-13.5 q13.3,-5.7 27,-13.5 q13.5,-5.1 27,-13.5" opacity="0.7"/>
<path d="M750.8,500.1 q12,-9.1 27,-13.5 q12.9,-6.7 27,-13.5 q11.7,-9.8 27,-13.5 q14.4,-3 27,-13.5 q14.2,-3.6 27,-13.5 q13.2,-6.1 27,-13.5" opacity="0.7"/>
</g>
<g clip-path="url(#plyClip)" opacity="0.35">
<polygon points="760,462 850,421 868,421 775,470" fill="#f3dca4"/>
<polygon points="792,498 874,456 874,468 803,505" fill="#dcb56c"/>
</g>
<polyline points="731.3,470.4 829.4,530.5 873.8,487.3" fill="none" stroke="#c79750" stroke-width="1.1"/>
<polyline points="731.6,469.6 824.9,422" fill="none" stroke="#f7e2b0" stroke-width="0.6"/>
<rect x="778" y="487" width="16" height="3.2" fill="#7a6a4a" opacity="0.55" transform="rotate(31 778 487)"/>
</g>
</g>
<g id="icons" filter="url(#txtsoft)">
<g id="icon-log">
<line x1="52.1" y1="285" x2="129.6" y2="245.8" stroke="#673707" stroke-width="55.6" stroke-linecap="round"/>
<ellipse cx="52" cy="284.7" rx="25.9" ry="26.3" fill="#eedbc0"/>
<g fill="none" stroke="#c0a484" stroke-width="0.7">
<circle cx="48.3" cy="284.1" r="2.4"/>
<path d="M55.57,284.18C55.56,284.47 55.51,284.77 55.47,285.06C55.43,285.36 55.37,285.65 55.31,285.94C55.25,286.24 55.19,286.53 55.12,286.83C55.06,287.13 54.99,287.44 54.91,287.75C54.83,288.06 54.75,288.4 54.64,288.72C54.52,289.04 54.4,289.39 54.22,289.67C54.03,289.95 53.79,290.23 53.52,290.42C53.24,290.6 52.89,290.71 52.56,290.8C52.23,290.88 51.87,290.9 51.54,290.93C51.21,290.96 50.89,290.97 50.57,290.97C50.26,290.98 49.95,290.99 49.65,290.99C49.35,290.98 49.06,290.98 48.76,290.96C48.47,290.94 48.17,290.92 47.89,290.87C47.6,290.82 47.31,290.76 47.04,290.67C46.76,290.57 46.49,290.45 46.24,290.3C45.99,290.16 45.76,289.98 45.54,289.79C45.32,289.61 45.13,289.4 44.94,289.2C44.74,289 44.57,288.78 44.4,288.57C44.22,288.36 44.06,288.15 43.9,287.93C43.74,287.72 43.58,287.5 43.42,287.28C43.26,287.06 43.1,286.84 42.95,286.6C42.8,286.36 42.65,286.12 42.52,285.86C42.39,285.6 42.27,285.33 42.2,285.05C42.13,284.76 42.1,284.46 42.12,284.18C42.14,283.89 42.23,283.59 42.32,283.32C42.4,283.05 42.54,282.78 42.66,282.53C42.79,282.27 42.93,282.03 43.06,281.8C43.2,281.56 43.33,281.33 43.47,281.1C43.61,280.87 43.75,280.64 43.89,280.41C44.04,280.18 44.18,279.95 44.34,279.72C44.49,279.49 44.65,279.25 44.83,279.02C45.01,278.79 45.2,278.55 45.42,278.34C45.64,278.13 45.87,277.93 46.13,277.77C46.39,277.62 46.68,277.5 46.96,277.42C47.25,277.33 47.56,277.3 47.86,277.29C48.16,277.28 48.47,277.31 48.76,277.35C49.06,277.39 49.35,277.45 49.63,277.53C49.91,277.61 50.19,277.7 50.45,277.81C50.72,277.92 50.98,278.05 51.22,278.19C51.47,278.33 51.71,278.48 51.94,278.64C52.17,278.79 52.39,278.96 52.6,279.14C52.82,279.31 53.02,279.49 53.23,279.67C53.44,279.86 53.64,280.05 53.84,280.25C54.03,280.45 54.23,280.66 54.42,280.89C54.6,281.11 54.79,281.34 54.94,281.6C55.1,281.85 55.24,282.12 55.34,282.4C55.44,282.68 55.51,282.98 55.55,283.27C55.59,283.57 55.58,283.88 55.57,284.18Z"/>
<path d="M58.35,284.25C58.34,284.65 58.28,285.05 58.21,285.45C58.15,285.84 58.06,286.23 57.97,286.62C57.88,287.01 57.78,287.4 57.68,287.79C57.57,288.19 57.47,288.58 57.34,288.99C57.22,289.4 57.1,289.82 56.94,290.24C56.79,290.66 56.63,291.11 56.4,291.5C56.16,291.89 55.88,292.29 55.54,292.57C55.19,292.85 54.75,293.04 54.33,293.18C53.9,293.32 53.42,293.36 52.97,293.4C52.53,293.45 52.09,293.45 51.66,293.45C51.24,293.46 50.83,293.46 50.42,293.45C50.02,293.43 49.62,293.42 49.22,293.39C48.83,293.36 48.44,293.33 48.05,293.26C47.67,293.19 47.28,293.12 46.91,293C46.54,292.87 46.17,292.72 45.83,292.53C45.49,292.35 45.17,292.12 44.87,291.87C44.58,291.63 44.3,291.35 44.05,291.08C43.79,290.8 43.55,290.51 43.32,290.22C43.09,289.93 42.88,289.63 42.67,289.34C42.46,289.04 42.26,288.74 42.06,288.43C41.86,288.13 41.66,287.82 41.47,287.5C41.28,287.18 41.08,286.85 40.91,286.5C40.75,286.15 40.58,285.79 40.48,285.41C40.38,285.04 40.31,284.64 40.31,284.25C40.32,283.86 40.4,283.46 40.51,283.09C40.62,282.72 40.79,282.36 40.96,282.01C41.12,281.66 41.32,281.34 41.51,281.02C41.69,280.7 41.89,280.39 42.09,280.08C42.28,279.78 42.48,279.48 42.68,279.17C42.89,278.87 43.09,278.57 43.31,278.27C43.53,277.97 43.76,277.67 44,277.37C44.25,277.07 44.51,276.76 44.79,276.49C45.08,276.21 45.39,275.93 45.73,275.72C46.07,275.5 46.44,275.31 46.82,275.19C47.21,275.07 47.62,275.01 48.02,274.98C48.42,274.95 48.83,274.98 49.22,275.03C49.62,275.08 50.01,275.16 50.39,275.26C50.77,275.37 51.15,275.5 51.51,275.64C51.86,275.79 52.21,275.96 52.54,276.15C52.88,276.33 53.2,276.54 53.5,276.76C53.81,276.97 54.1,277.2 54.39,277.44C54.68,277.68 54.95,277.93 55.22,278.19C55.49,278.44 55.75,278.71 56.01,278.99C56.27,279.26 56.52,279.55 56.76,279.85C57,280.16 57.24,280.47 57.44,280.81C57.65,281.14 57.85,281.5 57.99,281.88C58.13,282.25 58.24,282.65 58.3,283.04C58.36,283.44 58.37,283.85 58.35,284.25Z"/>
<path d="M61.13,284.32C61.11,284.83 61.04,285.33 60.96,285.83C60.88,286.32 60.76,286.81 60.63,287.3C60.51,287.78 60.37,288.26 60.22,288.75C60.07,289.23 59.91,289.71 59.74,290.21C59.57,290.7 59.39,291.2 59.18,291.71C58.97,292.21 58.77,292.75 58.48,293.24C58.2,293.73 57.89,294.24 57.48,294.62C57.08,295 56.58,295.31 56.06,295.52C55.55,295.73 54.96,295.8 54.41,295.87C53.86,295.94 53.3,295.94 52.76,295.95C52.23,295.96 51.71,295.94 51.19,295.92C50.68,295.9 50.18,295.87 49.69,295.83C49.19,295.78 48.7,295.73 48.22,295.65C47.73,295.57 47.25,295.47 46.78,295.32C46.31,295.18 45.85,295 45.42,294.77C44.98,294.55 44.57,294.28 44.19,293.98C43.81,293.68 43.46,293.34 43.13,292.99C42.8,292.64 42.5,292.27 42.21,291.9C41.92,291.53 41.66,291.15 41.4,290.77C41.14,290.39 40.9,290 40.66,289.61C40.42,289.21 40.18,288.82 39.96,288.41C39.74,288 39.51,287.58 39.31,287.14C39.12,286.7 38.91,286.25 38.78,285.78C38.65,285.31 38.54,284.81 38.52,284.32C38.5,283.84 38.57,283.33 38.68,282.86C38.8,282.38 39,281.92 39.2,281.48C39.41,281.04 39.66,280.62 39.9,280.22C40.14,279.81 40.4,279.42 40.65,279.04C40.91,278.66 41.17,278.28 41.44,277.91C41.71,277.54 41.98,277.18 42.27,276.81C42.56,276.45 42.85,276.08 43.17,275.72C43.49,275.36 43.82,274.99 44.18,274.66C44.54,274.32 44.93,273.98 45.35,273.71C45.77,273.43 46.22,273.18 46.7,273.01C47.17,272.84 47.68,272.74 48.18,272.69C48.67,272.64 49.19,272.66 49.69,272.71C50.18,272.76 50.68,272.86 51.16,272.99C51.64,273.11 52.11,273.27 52.56,273.45C53.02,273.63 53.45,273.85 53.88,274.08C54.3,274.31 54.7,274.57 55.09,274.84C55.48,275.12 55.85,275.41 56.2,275.72C56.56,276.03 56.9,276.35 57.23,276.68C57.56,277.01 57.88,277.35 58.2,277.71C58.51,278.07 58.81,278.43 59.1,278.82C59.39,279.2 59.68,279.6 59.93,280.03C60.18,280.45 60.42,280.9 60.61,281.36C60.79,281.82 60.94,282.32 61.03,282.81C61.11,283.31 61.14,283.82 61.13,284.32Z"/>
<path d="M63.88,284.4C63.88,285 63.8,285.61 63.7,286.21C63.6,286.81 63.45,287.39 63.29,287.97C63.14,288.56 62.95,289.12 62.75,289.7C62.55,290.27 62.34,290.83 62.11,291.41C61.88,291.98 61.64,292.56 61.38,293.14C61.11,293.72 60.83,294.33 60.5,294.9C60.16,295.47 59.8,296.08 59.34,296.55C58.88,297.03 58.33,297.46 57.75,297.76C57.16,298.05 56.47,298.19 55.82,298.3C55.18,298.42 54.5,298.42 53.86,298.44C53.21,298.46 52.58,298.43 51.97,298.41C51.35,298.38 50.75,298.34 50.15,298.28C49.55,298.22 48.96,298.15 48.38,298.04C47.8,297.94 47.22,297.82 46.65,297.65C46.09,297.48 45.53,297.27 45,297.02C44.47,296.76 43.96,296.45 43.49,296.1C43.02,295.75 42.59,295.35 42.18,294.94C41.78,294.53 41.41,294.08 41.06,293.63C40.71,293.18 40.39,292.71 40.08,292.24C39.77,291.77 39.49,291.29 39.21,290.81C38.93,290.32 38.67,289.84 38.42,289.33C38.16,288.83 37.92,288.32 37.7,287.79C37.48,287.26 37.25,286.71 37.09,286.14C36.94,285.58 36.79,284.99 36.75,284.4C36.71,283.81 36.75,283.2 36.86,282.62C36.97,282.05 37.19,281.48 37.42,280.94C37.65,280.4 37.94,279.89 38.24,279.39C38.53,278.9 38.85,278.43 39.17,277.96C39.48,277.5 39.81,277.06 40.15,276.62C40.49,276.17 40.84,275.74 41.2,275.32C41.56,274.89 41.93,274.47 42.33,274.05C42.72,273.64 43.13,273.22 43.57,272.84C44.01,272.45 44.48,272.06 44.98,271.73C45.48,271.4 46.02,271.09 46.58,270.88C47.14,270.66 47.74,270.51 48.34,270.43C48.93,270.35 49.55,270.36 50.15,270.41C50.75,270.45 51.35,270.57 51.93,270.7C52.51,270.84 53.08,271.03 53.62,271.24C54.17,271.46 54.71,271.71 55.22,271.98C55.73,272.26 56.22,272.57 56.69,272.9C57.16,273.23 57.61,273.59 58.04,273.97C58.47,274.34 58.88,274.74 59.27,275.14C59.67,275.55 60.04,275.97 60.41,276.41C60.77,276.85 61.12,277.3 61.45,277.78C61.79,278.25 62.11,278.74 62.4,279.25C62.69,279.76 62.98,280.3 63.2,280.85C63.42,281.41 63.61,282 63.72,282.59C63.84,283.18 63.88,283.8 63.88,284.4Z"/>
<path d="M66.61,284.48C66.62,285.18 66.54,285.89 66.43,286.59C66.32,287.29 66.14,287.97 65.95,288.65C65.76,289.33 65.53,289.99 65.28,290.65C65.03,291.31 64.76,291.95 64.47,292.6C64.18,293.25 63.88,293.9 63.54,294.55C63.2,295.2 62.85,295.86 62.45,296.5C62.04,297.13 61.62,297.81 61.11,298.37C60.59,298.93 60,299.48 59.36,299.86C58.71,300.24 57.94,300.48 57.21,300.65C56.47,300.83 55.69,300.86 54.94,300.9C54.2,300.94 53.46,300.91 52.74,300.88C52.02,300.85 51.31,300.8 50.61,300.73C49.91,300.65 49.23,300.56 48.54,300.43C47.86,300.31 47.19,300.16 46.53,299.97C45.87,299.77 45.21,299.54 44.59,299.25C43.97,298.96 43.36,298.62 42.8,298.22C42.24,297.83 41.71,297.38 41.22,296.91C40.74,296.43 40.29,295.91 39.88,295.38C39.46,294.86 39.08,294.3 38.72,293.75C38.36,293.19 38.03,292.62 37.71,292.04C37.39,291.46 37.1,290.88 36.82,290.28C36.54,289.68 36.28,289.07 36.04,288.44C35.81,287.81 35.57,287.17 35.4,286.51C35.23,285.85 35.07,285.16 35.01,284.48C34.95,283.79 34.95,283.07 35.05,282.39C35.15,281.71 35.37,281.03 35.61,280.39C35.86,279.75 36.2,279.14 36.53,278.55C36.87,277.96 37.24,277.4 37.62,276.86C38,276.31 38.4,275.79 38.81,275.28C39.22,274.76 39.65,274.27 40.09,273.78C40.53,273.29 40.98,272.82 41.46,272.35C41.94,271.89 42.43,271.43 42.95,271C43.48,270.57 44.03,270.14 44.62,269.77C45.2,269.4 45.83,269.04 46.47,268.78C47.12,268.53 47.82,268.33 48.51,268.22C49.2,268.11 49.91,268.09 50.61,268.13C51.31,268.16 52.01,268.28 52.69,268.43C53.37,268.58 54.04,268.79 54.69,269.03C55.33,269.27 55.96,269.55 56.57,269.87C57.17,270.19 57.75,270.55 58.31,270.93C58.86,271.32 59.39,271.74 59.9,272.18C60.4,272.62 60.88,273.09 61.34,273.58C61.8,274.06 62.23,274.57 62.65,275.09C63.06,275.62 63.46,276.16 63.83,276.72C64.21,277.28 64.57,277.86 64.89,278.47C65.21,279.07 65.53,279.7 65.77,280.35C66.02,281 66.25,281.68 66.39,282.37C66.52,283.05 66.6,283.77 66.61,284.48Z"/>
<path d="M69.3,284.55C69.32,285.35 69.26,286.17 69.14,286.97C69.02,287.76 68.83,288.55 68.61,289.33C68.39,290.1 68.11,290.85 67.82,291.6C67.52,292.35 67.19,293.08 66.83,293.8C66.48,294.52 66.1,295.24 65.69,295.95C65.27,296.66 64.84,297.37 64.36,298.06C63.88,298.75 63.38,299.46 62.8,300.09C62.22,300.71 61.59,301.35 60.88,301.81C60.17,302.28 59.35,302.63 58.54,302.87C57.73,303.12 56.85,303.21 56.01,303.28C55.17,303.36 54.33,303.35 53.51,303.33C52.68,303.31 51.87,303.25 51.08,303.16C50.28,303.08 49.49,302.97 48.71,302.82C47.93,302.68 47.16,302.51 46.4,302.28C45.65,302.06 44.9,301.8 44.18,301.48C43.46,301.15 42.76,300.78 42.11,300.34C41.45,299.91 40.83,299.41 40.26,298.88C39.68,298.35 39.16,297.77 38.67,297.17C38.17,296.57 37.73,295.93 37.31,295.29C36.89,294.65 36.51,293.98 36.15,293.31C35.79,292.64 35.47,291.95 35.16,291.25C34.86,290.55 34.58,289.84 34.33,289.11C34.08,288.38 33.85,287.64 33.67,286.88C33.5,286.12 33.33,285.34 33.27,284.55C33.2,283.76 33.18,282.95 33.27,282.17C33.36,281.38 33.56,280.59 33.81,279.85C34.07,279.1 34.43,278.38 34.8,277.7C35.17,277.01 35.6,276.35 36.03,275.72C36.47,275.09 36.94,274.48 37.42,273.9C37.9,273.31 38.4,272.74 38.92,272.19C39.44,271.65 39.98,271.11 40.55,270.6C41.12,270.09 41.7,269.59 42.32,269.13C42.93,268.66 43.58,268.2 44.25,267.8C44.93,267.4 45.64,267.01 46.38,266.72C47.11,266.43 47.9,266.19 48.68,266.05C49.46,265.91 50.28,265.86 51.08,265.88C51.87,265.9 52.68,266.02 53.45,266.17C54.23,266.33 55,266.55 55.75,266.82C56.49,267.08 57.22,267.4 57.92,267.75C58.62,268.11 59.29,268.51 59.94,268.95C60.58,269.38 61.19,269.86 61.78,270.37C62.36,270.87 62.91,271.42 63.44,271.98C63.96,272.54 64.46,273.13 64.93,273.74C65.4,274.35 65.84,274.99 66.25,275.64C66.66,276.3 67.05,276.97 67.4,277.67C67.75,278.37 68.09,279.1 68.36,279.84C68.63,280.59 68.87,281.36 69.03,282.15C69.18,282.93 69.29,283.75 69.3,284.55Z"/>
<path d="M71.97,284.62C72,285.53 71.94,286.45 71.82,287.34C71.7,288.24 71.49,289.13 71.25,290C71,290.87 70.69,291.72 70.35,292.55C70.01,293.38 69.62,294.2 69.2,295C68.78,295.8 68.32,296.58 67.83,297.35C67.34,298.11 66.82,298.87 66.26,299.6C65.69,300.33 65.1,301.07 64.45,301.74C63.79,302.41 63.09,303.09 62.32,303.62C61.54,304.15 60.68,304.61 59.81,304.93C58.93,305.25 57.97,305.42 57.05,305.55C56.13,305.68 55.18,305.7 54.27,305.7C53.35,305.7 52.44,305.65 51.54,305.57C50.64,305.49 49.75,305.37 48.87,305.2C48,305.04 47.13,304.84 46.28,304.59C45.43,304.34 44.58,304.05 43.77,303.69C42.96,303.33 42.17,302.92 41.42,302.45C40.67,301.98 39.96,301.44 39.29,300.86C38.63,300.28 38.01,299.63 37.44,298.96C36.87,298.3 36.35,297.58 35.87,296.86C35.38,296.13 34.94,295.38 34.54,294.61C34.13,293.84 33.77,293.05 33.44,292.25C33.11,291.45 32.81,290.63 32.55,289.8C32.3,288.97 32.07,288.12 31.89,287.26C31.72,286.39 31.57,285.51 31.5,284.62C31.44,283.74 31.42,282.83 31.51,281.94C31.59,281.06 31.77,280.16 32.03,279.31C32.29,278.46 32.66,277.63 33.05,276.84C33.45,276.05 33.92,275.29 34.41,274.56C34.89,273.84 35.42,273.14 35.97,272.47C36.52,271.8 37.1,271.16 37.7,270.55C38.31,269.94 38.94,269.35 39.59,268.79C40.25,268.23 40.93,267.7 41.65,267.2C42.36,266.7 43.1,266.22 43.87,265.8C44.65,265.38 45.45,264.98 46.28,264.67C47.11,264.35 47.98,264.09 48.86,263.92C49.73,263.76 50.65,263.69 51.54,263.69C52.43,263.7 53.33,263.8 54.21,263.95C55.09,264.11 55.96,264.35 56.81,264.63C57.65,264.91 58.48,265.25 59.27,265.64C60.06,266.02 60.83,266.47 61.57,266.95C62.3,267.43 63.01,267.97 63.67,268.53C64.34,269.1 64.97,269.71 65.57,270.35C66.16,270.99 66.72,271.66 67.25,272.36C67.77,273.06 68.26,273.79 68.71,274.54C69.16,275.29 69.58,276.07 69.96,276.86C70.33,277.66 70.67,278.49 70.96,279.33C71.24,280.18 71.49,281.05 71.66,281.93C71.83,282.81 71.94,283.72 71.97,284.62Z"/>
<path d="M74.62,284.7C74.65,285.7 74.59,286.72 74.47,287.71C74.34,288.7 74.13,289.7 73.86,290.66C73.6,291.63 73.26,292.58 72.87,293.5C72.49,294.42 72.05,295.32 71.57,296.2C71.09,297.07 70.56,297.93 69.99,298.75C69.42,299.57 68.81,300.37 68.16,301.14C67.5,301.91 66.81,302.66 66.07,303.36C65.32,304.05 64.54,304.74 63.69,305.31C62.85,305.89 61.94,306.41 61,306.8C60.05,307.19 59.04,307.46 58.04,307.65C57.04,307.84 56.02,307.92 55.01,307.97C54,308.01 52.99,307.99 52,307.92C51.01,307.85 50.02,307.73 49.04,307.56C48.07,307.39 47.1,307.17 46.16,306.89C45.21,306.61 44.28,306.29 43.37,305.89C42.47,305.5 41.58,305.06 40.74,304.54C39.9,304.03 39.09,303.45 38.34,302.82C37.58,302.19 36.87,301.5 36.21,300.77C35.56,300.04 34.95,299.25 34.4,298.45C33.84,297.64 33.33,296.8 32.88,295.94C32.42,295.08 32.01,294.19 31.64,293.28C31.28,292.38 30.96,291.45 30.69,290.51C30.43,289.57 30.2,288.61 30.04,287.64C29.87,286.67 29.75,285.69 29.7,284.7C29.65,283.71 29.65,282.71 29.74,281.72C29.84,280.73 30.02,279.73 30.28,278.78C30.54,277.82 30.91,276.88 31.32,275.98C31.73,275.09 32.23,274.22 32.76,273.39C33.28,272.57 33.87,271.77 34.48,271.02C35.09,270.26 35.74,269.54 36.43,268.85C37.11,268.17 37.83,267.52 38.59,266.91C39.34,266.3 40.12,265.72 40.94,265.2C41.75,264.67 42.6,264.18 43.47,263.74C44.34,263.31 45.25,262.91 46.18,262.59C47.11,262.27 48.07,262 49.04,261.82C50.01,261.65 51.01,261.56 52,261.55C52.99,261.54 53.99,261.63 54.96,261.78C55.94,261.94 56.91,262.17 57.85,262.47C58.79,262.76 59.72,263.12 60.61,263.54C61.5,263.95 62.37,264.43 63.2,264.95C64.03,265.48 64.83,266.06 65.58,266.69C66.33,267.31 67.05,267.99 67.72,268.7C68.39,269.41 69.02,270.17 69.6,270.95C70.19,271.74 70.73,272.56 71.22,273.41C71.71,274.25 72.16,275.13 72.56,276.03C72.96,276.93 73.31,277.86 73.6,278.81C73.89,279.76 74.14,280.73 74.31,281.71C74.48,282.69 74.59,283.7 74.62,284.7Z"/>
</g>
</g>
<g id="icon-lumber" stroke="#7b4a1a" stroke-width="1.4" stroke-linejoin="round">
<polygon points="21.1,445.4 133.3,417.5 155.6,420.9 44.3,448.8" fill="#e9d9c1"/>
<polygon points="44.3,448.8 155.6,420.9 156.1,466.5 44.3,494.2" fill="#e6d6bd"/>
<polygon points="21.1,445.4 44.3,448.8 44.3,494.2 21.6,490.8" fill="#e6d5bb"/>
</g>
<g id="icon-parallel" stroke="#3b3a38" stroke-width="1.15" stroke-linejoin="round">
<polygon points="440.8,158.3 468.7,173.7 468.7,180.2 440.8,164.8" fill="#e6d4b9"/><polygon points="468.7,173.7 564.3,118.5 564.3,125 468.7,180.2" fill="#e6d4b9"/><polygon points="440.8,158.3 536.6,102.6 564.3,118.5 468.7,173.7" fill="#e8d7bd"/>
<polygon points="440.8,144.8 468.7,160.2 468.7,166.7 440.8,151.3" fill="#e6d4b9"/><polygon points="468.7,160.2 564.3,105 564.3,111.5 468.7,166.7" fill="#e6d4b9"/><polygon points="440.8,144.8 536.6,89.1 564.3,105 468.7,160.2" fill="#e8d7bd"/>
<polygon points="440.8,131.3 468.7,146.7 468.7,153.2 440.8,137.8" fill="#e6d4b9"/><polygon points="468.7,146.7 564.3,91.5 564.3,98 468.7,153.2" fill="#e6d4b9"/><polygon points="440.8,131.3 536.6,75.6 564.3,91.5 468.7,146.7" fill="#e8d7bd"/>
</g>
<g id="icon-cross" stroke="#3b3a38" stroke-width="1.15" stroke-linejoin="round">
<polygon points="726.2,150.3 753.7,166 753.7,172.3 726.2,156.6" fill="#e6d4b9"/><polygon points="753.7,166 849.7,110.4 849.7,116.7 753.7,172.3" fill="#e6d4b9"/><polygon points="726.2,150.3 822,94.2 849.7,110.4 753.7,166" fill="#e8d7bd"/>
<polygon points="725.8,100.5 822.5,156.6 822.5,162.8 725.8,106.7" fill="#e6d4b9"/><polygon points="822.5,156.6 850,140.2 850,146.4 822.5,162.8" fill="#e6d4b9"/><polygon points="725.8,100.5 753.3,84.3 850,140.2 822.5,156.6" fill="#e8d7bd"/>
<polygon points="726.2,130.1 753.7,145.8 753.7,152.1 726.2,136.4" fill="#e6d4b9"/><polygon points="753.7,145.8 849.7,90.2 849.7,96.5 753.7,152.1" fill="#e6d4b9"/><polygon points="726.2,130.1 822,74 849.7,90.2 753.7,145.8" fill="#e8d7bd"/>
</g>
<g id="icon-lamina">
<clipPath id="cutL"><polygon points="250,195 322.3,195 326.4,305 326.4,320 250,320"/></clipPath>
<g clip-path="url(#cutL)">
<path d="M267.4,276 L273.5,225 C274.6,212.5 287,204.2 303.2,204.2 C313,204.2 321,208 327,214 L330,274 L267.4,276Z" fill="#673707"/>
<ellipse cx="298.5" cy="273.8" rx="31.1" ry="33.0" fill="#673707"/>
<ellipse cx="298.5" cy="273.8" rx="28.5" ry="30.7" fill="#eedbc0"/>
<g fill="none" stroke="#c0a484" stroke-width="0.7">
<circle cx="296.3" cy="272.9" r="2.6"/>
<path d="M302.86,272.99C302.87,273.28 302.88,273.56 302.87,273.85C302.86,274.14 302.84,274.44 302.79,274.73C302.75,275.01 302.69,275.31 302.6,275.59C302.51,275.87 302.4,276.15 302.27,276.42C302.13,276.68 301.98,276.94 301.81,277.18C301.64,277.43 301.46,277.66 301.27,277.89C301.07,278.12 300.87,278.34 300.66,278.56C300.45,278.78 300.23,279 299.99,279.2C299.76,279.41 299.51,279.61 299.24,279.78C298.98,279.95 298.69,280.1 298.39,280.2C298.09,280.3 297.77,280.35 297.46,280.37C297.15,280.39 296.83,280.35 296.52,280.3C296.21,280.26 295.91,280.18 295.61,280.1C295.32,280.03 295.03,279.94 294.74,279.85C294.45,279.76 294.17,279.67 293.88,279.57C293.59,279.48 293.3,279.38 293.01,279.27C292.71,279.17 292.4,279.07 292.1,278.93C291.81,278.8 291.48,278.66 291.22,278.47C290.95,278.27 290.69,278.03 290.52,277.75C290.34,277.46 290.24,277.11 290.17,276.77C290.1,276.44 290.1,276.07 290.09,275.74C290.08,275.4 290.1,275.08 290.11,274.76C290.13,274.45 290.15,274.15 290.17,273.85C290.19,273.56 290.21,273.27 290.24,272.99C290.27,272.71 290.31,272.43 290.35,272.15C290.39,271.87 290.44,271.6 290.5,271.32C290.56,271.05 290.62,270.77 290.71,270.5C290.79,270.23 290.89,269.96 291,269.7C291.11,269.43 291.24,269.17 291.38,268.92C291.53,268.67 291.69,268.42 291.86,268.17C292.03,267.93 292.21,267.69 292.41,267.46C292.61,267.22 292.81,266.99 293.04,266.76C293.26,266.53 293.49,266.29 293.75,266.09C294.01,265.89 294.29,265.68 294.59,265.56C294.89,265.44 295.23,265.37 295.55,265.38C295.87,265.39 296.21,265.49 296.52,265.6C296.83,265.7 297.13,265.86 297.41,266C297.69,266.15 297.96,266.3 298.22,266.45C298.48,266.6 298.72,266.74 298.97,266.89C299.21,267.04 299.45,267.18 299.68,267.33C299.92,267.48 300.15,267.63 300.38,267.8C300.61,267.96 300.83,268.13 301.05,268.32C301.26,268.51 301.47,268.71 301.65,268.93C301.83,269.15 301.99,269.39 302.13,269.65C302.26,269.9 302.37,270.17 302.46,270.45C302.55,270.72 302.62,271.01 302.67,271.29C302.73,271.57 302.76,271.85 302.8,272.14C302.83,272.42 302.85,272.7 302.86,272.99Z"/>
<path d="M305.11,273.08C305.12,273.46 305.12,273.85 305.1,274.24C305.08,274.62 305.05,275.01 304.99,275.4C304.93,275.79 304.85,276.18 304.74,276.56C304.62,276.93 304.48,277.31 304.31,277.66C304.14,278.02 303.93,278.36 303.71,278.69C303.49,279.02 303.24,279.33 302.98,279.63C302.73,279.94 302.46,280.23 302.17,280.51C301.89,280.79 301.6,281.07 301.28,281.34C300.97,281.6 300.65,281.87 300.3,282.1C299.95,282.32 299.58,282.54 299.19,282.69C298.81,282.83 298.39,282.93 297.98,282.97C297.57,283.01 297.15,282.97 296.74,282.92C296.33,282.86 295.93,282.75 295.54,282.65C295.15,282.54 294.77,282.41 294.39,282.28C294.01,282.15 293.65,282.01 293.27,281.87C292.9,281.73 292.53,281.58 292.15,281.43C291.77,281.27 291.38,281.12 290.99,280.94C290.61,280.75 290.2,280.57 289.84,280.32C289.48,280.07 289.11,279.79 288.85,279.43C288.59,279.08 288.41,278.63 288.29,278.2C288.18,277.76 288.16,277.27 288.14,276.82C288.12,276.37 288.15,275.92 288.18,275.49C288.2,275.06 288.23,274.65 288.27,274.25C288.31,273.85 288.35,273.46 288.4,273.08C288.45,272.7 288.5,272.32 288.56,271.95C288.63,271.58 288.69,271.21 288.78,270.84C288.87,270.47 288.96,270.11 289.07,269.75C289.19,269.39 289.32,269.03 289.47,268.68C289.62,268.33 289.8,267.98 289.99,267.64C290.18,267.31 290.39,266.98 290.62,266.66C290.85,266.34 291.1,266.03 291.36,265.72C291.62,265.42 291.9,265.12 292.2,264.82C292.49,264.53 292.8,264.23 293.14,263.96C293.48,263.7 293.84,263.41 294.22,263.23C294.61,263.05 295.04,262.9 295.46,262.87C295.88,262.85 296.33,262.95 296.74,263.07C297.15,263.19 297.55,263.4 297.93,263.59C298.31,263.79 298.66,264.01 299,264.21C299.35,264.42 299.67,264.63 299.99,264.84C300.31,265.05 300.62,265.25 300.93,265.46C301.24,265.67 301.54,265.88 301.84,266.11C302.13,266.34 302.43,266.57 302.7,266.82C302.98,267.08 303.26,267.34 303.5,267.64C303.74,267.93 303.96,268.25 304.15,268.59C304.34,268.93 304.49,269.29 304.61,269.66C304.74,270.02 304.82,270.41 304.9,270.79C304.97,271.17 305.01,271.55 305.05,271.93C305.08,272.31 305.1,272.7 305.11,273.08Z"/>
<path d="M307.39,273.17C307.39,273.65 307.38,274.14 307.35,274.62C307.31,275.1 307.27,275.59 307.19,276.07C307.11,276.56 307.01,277.05 306.87,277.52C306.73,277.99 306.55,278.46 306.34,278.91C306.13,279.36 305.88,279.79 305.61,280.2C305.33,280.61 305.02,281 304.7,281.37C304.38,281.75 304.04,282.1 303.68,282.45C303.32,282.79 302.95,283.13 302.56,283.45C302.17,283.77 301.77,284.09 301.34,284.37C300.91,284.65 300.46,284.93 299.98,285.12C299.51,285.32 299,285.47 298.5,285.54C297.99,285.61 297.47,285.59 296.96,285.53C296.45,285.48 295.95,285.34 295.46,285.21C294.98,285.07 294.51,284.89 294.04,284.72C293.57,284.55 293.12,284.36 292.66,284.16C292.21,283.97 291.76,283.77 291.3,283.56C290.84,283.35 290.38,283.14 289.91,282.9C289.45,282.66 288.96,282.42 288.52,282.12C288.07,281.81 287.6,281.48 287.25,281.07C286.9,280.65 286.61,280.14 286.43,279.61C286.25,279.09 286.2,278.48 286.16,277.91C286.12,277.35 286.16,276.77 286.19,276.23C286.21,275.69 286.27,275.16 286.32,274.65C286.37,274.14 286.44,273.66 286.51,273.17C286.57,272.68 286.65,272.21 286.74,271.74C286.83,271.27 286.92,270.81 287.04,270.35C287.15,269.89 287.28,269.44 287.43,268.98C287.58,268.53 287.74,268.09 287.94,267.65C288.13,267.21 288.35,266.78 288.59,266.36C288.83,265.94 289.1,265.54 289.39,265.14C289.68,264.75 289.99,264.37 290.32,264C290.65,263.63 291,263.27 291.38,262.92C291.75,262.57 292.14,262.22 292.55,261.89C292.97,261.57 293.41,261.22 293.88,260.98C294.35,260.74 294.86,260.51 295.38,260.43C295.89,260.35 296.45,260.41 296.96,260.53C297.47,260.64 297.98,260.9 298.46,261.13C298.93,261.37 299.37,261.65 299.8,261.92C300.23,262.19 300.64,262.46 301.04,262.74C301.44,263.01 301.82,263.28 302.2,263.56C302.57,263.84 302.94,264.11 303.31,264.41C303.67,264.7 304.03,265 304.37,265.32C304.71,265.64 305.05,265.98 305.35,266.35C305.65,266.72 305.94,267.11 306.18,267.53C306.42,267.95 306.62,268.4 306.78,268.86C306.94,269.32 307.05,269.8 307.15,270.28C307.24,270.75 307.29,271.24 307.33,271.72C307.37,272.21 307.39,272.69 307.39,273.17Z"/>
<path d="M309.7,273.26C309.69,273.84 309.66,274.42 309.61,275.01C309.56,275.59 309.5,276.17 309.4,276.75C309.29,277.33 309.17,277.92 309,278.48C308.83,279.05 308.63,279.62 308.38,280.16C308.13,280.7 307.83,281.22 307.51,281.71C307.18,282.21 306.81,282.67 306.42,283.12C306.04,283.56 305.62,283.98 305.18,284.39C304.75,284.79 304.3,285.18 303.83,285.55C303.36,285.92 302.88,286.28 302.36,286.61C301.85,286.93 301.32,287.26 300.76,287.5C300.2,287.74 299.6,287.95 299.01,288.05C298.41,288.16 297.78,288.17 297.18,288.12C296.58,288.08 295.97,287.93 295.39,287.77C294.81,287.61 294.24,287.39 293.68,287.17C293.13,286.96 292.59,286.71 292.05,286.46C291.51,286.22 290.99,285.96 290.45,285.69C289.92,285.41 289.39,285.14 288.85,284.83C288.32,284.53 287.76,284.23 287.24,283.86C286.72,283.49 286.16,283.11 285.72,282.64C285.28,282.16 284.88,281.6 284.61,281C284.35,280.39 284.24,279.68 284.16,279.01C284.08,278.34 284.13,277.64 284.15,276.98C284.18,276.33 284.25,275.69 284.32,275.07C284.39,274.45 284.47,273.85 284.56,273.26C284.65,272.67 284.75,272.1 284.87,271.53C284.98,270.96 285.11,270.41 285.26,269.85C285.4,269.3 285.56,268.75 285.75,268.21C285.94,267.67 286.15,267.13 286.38,266.61C286.62,266.09 286.89,265.57 287.18,265.08C287.48,264.58 287.8,264.09 288.15,263.63C288.5,263.16 288.88,262.72 289.29,262.29C289.69,261.85 290.12,261.44 290.56,261.04C291.01,260.63 291.48,260.24 291.98,259.87C292.48,259.5 293,259.11 293.55,258.81C294.11,258.52 294.7,258.21 295.31,258.08C295.91,257.95 296.57,257.93 297.18,258.02C297.79,258.12 298.41,258.39 298.98,258.65C299.56,258.91 300.1,259.26 300.62,259.58C301.14,259.9 301.62,260.25 302.1,260.59C302.58,260.93 303.03,261.27 303.48,261.61C303.93,261.96 304.37,262.31 304.8,262.67C305.22,263.04 305.65,263.4 306.05,263.8C306.45,264.2 306.85,264.61 307.21,265.05C307.57,265.5 307.92,265.97 308.21,266.47C308.5,266.97 308.76,267.51 308.96,268.06C309.16,268.6 309.31,269.18 309.42,269.76C309.54,270.34 309.6,270.93 309.65,271.51C309.69,272.09 309.7,272.68 309.7,273.26Z"/>
<path d="M312.04,273.35C312.03,274.03 311.98,274.72 311.91,275.4C311.84,276.08 311.75,276.76 311.62,277.43C311.49,278.11 311.34,278.79 311.14,279.45C310.94,280.11 310.7,280.77 310.41,281.4C310.13,282.03 309.79,282.65 309.41,283.22C309.03,283.8 308.6,284.35 308.15,284.87C307.69,285.38 307.2,285.86 306.69,286.33C306.18,286.79 305.65,287.22 305.1,287.64C304.55,288.05 303.98,288.46 303.38,288.82C302.78,289.19 302.17,289.55 301.52,289.83C300.87,290.11 300.19,290.37 299.51,290.51C298.82,290.65 298.1,290.71 297.4,290.68C296.7,290.64 295.99,290.5 295.31,290.32C294.64,290.15 293.97,289.89 293.33,289.63C292.68,289.38 292.06,289.08 291.44,288.77C290.82,288.47 290.22,288.15 289.61,287.81C289.01,287.47 288.41,287.12 287.81,286.75C287.2,286.38 286.59,286 286,285.56C285.41,285.13 284.79,284.69 284.27,284.15C283.75,283.61 283.23,283.01 282.88,282.33C282.53,281.66 282.32,280.87 282.19,280.1C282.06,279.34 282.08,278.51 282.09,277.75C282.11,276.98 282.19,276.22 282.27,275.48C282.35,274.75 282.45,274.05 282.57,273.35C282.68,272.65 282.81,271.98 282.95,271.31C283.09,270.64 283.25,269.99 283.43,269.34C283.62,268.69 283.81,268.05 284.04,267.42C284.27,266.79 284.52,266.17 284.81,265.56C285.09,264.95 285.41,264.35 285.76,263.78C286.11,263.2 286.49,262.64 286.91,262.11C287.32,261.57 287.77,261.06 288.25,260.57C288.72,260.08 289.23,259.61 289.76,259.16C290.28,258.71 290.84,258.28 291.42,257.87C292,257.46 292.6,257.05 293.24,256.71C293.88,256.37 294.55,256.02 295.25,255.83C295.94,255.64 296.69,255.53 297.4,255.59C298.11,255.64 298.84,255.89 299.51,256.16C300.18,256.43 300.83,256.83 301.44,257.2C302.05,257.58 302.62,257.99 303.18,258.39C303.74,258.8 304.27,259.21 304.79,259.62C305.32,260.04 305.82,260.46 306.31,260.9C306.8,261.34 307.29,261.79 307.75,262.26C308.21,262.73 308.67,263.22 309.08,263.74C309.5,264.27 309.9,264.82 310.25,265.4C310.59,265.98 310.9,266.61 311.15,267.25C311.4,267.89 311.58,268.56 311.72,269.24C311.86,269.91 311.94,270.61 311.99,271.29C312.05,271.98 312.05,272.67 312.04,273.35Z"/>
<path d="M314.42,273.44C314.4,274.23 314.34,275.01 314.25,275.79C314.16,276.58 314.04,277.35 313.88,278.13C313.72,278.9 313.53,279.67 313.3,280.42C313.06,281.18 312.79,281.93 312.45,282.65C312.12,283.37 311.74,284.08 311.31,284.74C310.88,285.4 310.39,286.03 309.87,286.62C309.36,287.21 308.79,287.76 308.2,288.27C307.62,288.79 307,289.28 306.37,289.73C305.73,290.19 305.07,290.63 304.39,291.02C303.71,291.42 303.01,291.81 302.27,292.12C301.54,292.43 300.78,292.73 300,292.9C299.23,293.08 298.41,293.18 297.62,293.17C296.83,293.16 296.02,293.03 295.24,292.85C294.47,292.67 293.71,292.39 292.97,292.09C292.24,291.8 291.52,291.45 290.82,291.09C290.12,290.73 289.44,290.34 288.76,289.94C288.09,289.53 287.42,289.11 286.76,288.66C286.1,288.21 285.43,287.75 284.79,287.24C284.14,286.73 283.47,286.21 282.88,285.61C282.28,285 281.67,284.35 281.24,283.61C280.81,282.87 280.48,282.02 280.28,281.17C280.08,280.32 280.05,279.38 280.04,278.51C280.03,277.63 280.11,276.75 280.19,275.91C280.28,275.06 280.4,274.24 280.53,273.44C280.66,272.64 280.81,271.86 280.98,271.08C281.16,270.31 281.35,269.56 281.56,268.81C281.78,268.07 282.02,267.33 282.29,266.61C282.57,265.89 282.86,265.18 283.2,264.49C283.54,263.8 283.91,263.11 284.31,262.46C284.72,261.81 285.17,261.17 285.65,260.57C286.13,259.96 286.65,259.38 287.2,258.84C287.75,258.29 288.33,257.77 288.94,257.28C289.55,256.79 290.19,256.32 290.86,255.89C291.52,255.45 292.21,255.02 292.94,254.65C293.66,254.28 294.42,253.9 295.2,253.67C295.98,253.44 296.81,253.25 297.62,253.26C298.43,253.27 299.26,253.46 300.03,253.72C300.81,253.98 301.55,254.41 302.26,254.82C302.97,255.22 303.63,255.7 304.27,256.16C304.92,256.63 305.53,257.11 306.13,257.6C306.72,258.08 307.3,258.58 307.85,259.1C308.41,259.61 308.96,260.14 309.48,260.69C310,261.24 310.5,261.81 310.98,262.42C311.45,263.02 311.9,263.66 312.3,264.33C312.69,264.99 313.06,265.7 313.35,266.43C313.64,267.16 313.87,267.94 314.04,268.71C314.21,269.48 314.31,270.28 314.37,271.07C314.44,271.86 314.44,272.65 314.42,273.44Z"/>
<path d="M316.84,273.53C316.81,274.42 316.73,275.31 316.62,276.2C316.51,277.08 316.36,277.96 316.17,278.83C315.98,279.7 315.76,280.56 315.48,281.41C315.2,282.26 314.88,283.1 314.51,283.91C314.13,284.71 313.7,285.51 313.22,286.25C312.73,287 312.19,287.71 311.61,288.37C311.02,289.04 310.38,289.65 309.72,290.23C309.06,290.81 308.36,291.34 307.64,291.84C306.92,292.34 306.18,292.8 305.41,293.23C304.64,293.65 303.84,294.06 303.02,294.39C302.2,294.73 301.35,295.04 300.49,295.24C299.63,295.44 298.73,295.59 297.84,295.6C296.95,295.62 296.05,295.51 295.18,295.33C294.31,295.15 293.45,294.86 292.62,294.53C291.79,294.21 290.99,293.82 290.21,293.41C289.42,292.99 288.66,292.54 287.91,292.07C287.16,291.6 286.44,291.1 285.71,290.57C284.99,290.05 284.28,289.5 283.58,288.91C282.88,288.32 282.17,287.71 281.52,287.03C280.88,286.35 280.21,285.63 279.69,284.83C279.18,284.02 278.74,283.12 278.46,282.19C278.18,281.26 278.08,280.23 278.02,279.26C277.96,278.28 278.04,277.29 278.11,276.33C278.19,275.38 278.32,274.44 278.46,273.53C278.6,272.62 278.78,271.73 278.97,270.85C279.17,269.98 279.39,269.12 279.65,268.27C279.9,267.43 280.18,266.6 280.5,265.78C280.82,264.97 281.17,264.17 281.56,263.39C281.95,262.61 282.37,261.85 282.84,261.12C283.31,260.39 283.82,259.68 284.37,259C284.92,258.33 285.51,257.69 286.14,257.09C286.77,256.48 287.43,255.92 288.13,255.38C288.82,254.85 289.55,254.36 290.3,253.89C291.05,253.43 291.83,252.99 292.64,252.61C293.45,252.22 294.29,251.84 295.16,251.58C296.03,251.32 296.94,251.08 297.84,251.04C298.74,251.01 299.67,251.12 300.55,251.36C301.42,251.59 302.27,252.02 303.08,252.45C303.88,252.87 304.64,253.4 305.37,253.92C306.11,254.43 306.8,254.98 307.48,255.53C308.15,256.09 308.8,256.66 309.42,257.25C310.05,257.84 310.65,258.45 311.23,259.09C311.81,259.72 312.37,260.38 312.9,261.07C313.42,261.76 313.92,262.48 314.37,263.24C314.81,264 315.22,264.79 315.56,265.62C315.89,266.44 316.17,267.3 316.37,268.18C316.57,269.05 316.7,269.95 316.78,270.84C316.86,271.73 316.86,272.64 316.84,273.53Z"/>
<path d="M319.29,273.62C319.26,274.62 319.17,275.62 319.04,276.61C318.91,277.59 318.73,278.57 318.5,279.54C318.28,280.51 318.01,281.47 317.69,282.41C317.37,283.35 317.01,284.28 316.58,285.18C316.15,286.07 315.67,286.95 315.13,287.78C314.59,288.61 313.99,289.4 313.34,290.14C312.7,290.87 311.99,291.56 311.25,292.2C310.51,292.83 309.73,293.42 308.92,293.96C308.12,294.5 307.28,294.99 306.42,295.44C305.56,295.89 304.68,296.31 303.77,296.66C302.86,297.01 301.93,297.33 300.97,297.55C300.02,297.76 299.04,297.93 298.06,297.96C297.08,298 296.08,297.92 295.12,297.75C294.16,297.58 293.2,297.28 292.28,296.94C291.36,296.6 290.46,296.17 289.59,295.71C288.72,295.26 287.88,294.75 287.06,294.21C286.24,293.67 285.44,293.1 284.66,292.49C283.88,291.89 283.11,291.25 282.37,290.58C281.63,289.9 280.89,289.2 280.19,288.44C279.5,287.67 278.8,286.88 278.22,286C277.65,285.12 277.11,284.16 276.75,283.16C276.39,282.16 276.19,281.05 276.08,279.99C275.96,278.92 276,277.81 276.05,276.75C276.1,275.69 276.23,274.64 276.38,273.62C276.52,272.6 276.71,271.6 276.93,270.61C277.15,269.63 277.4,268.67 277.69,267.72C277.97,266.77 278.3,265.84 278.66,264.94C279.02,264.03 279.42,263.13 279.87,262.27C280.31,261.41 280.8,260.56 281.33,259.75C281.87,258.94 282.44,258.15 283.07,257.41C283.69,256.67 284.36,255.97 285.06,255.31C285.76,254.65 286.51,254.04 287.29,253.47C288.07,252.89 288.89,252.37 289.73,251.89C290.57,251.4 291.45,250.96 292.34,250.57C293.24,250.17 294.17,249.8 295.13,249.53C296.08,249.26 297.07,249 298.06,248.93C299.05,248.86 300.08,248.9 301.05,249.1C302.02,249.3 302.98,249.7 303.88,250.13C304.79,250.56 305.65,251.12 306.47,251.67C307.3,252.23 308.08,252.83 308.84,253.45C309.59,254.06 310.32,254.71 311.01,255.37C311.71,256.04 312.38,256.73 313.02,257.45C313.66,258.17 314.28,258.91 314.85,259.7C315.42,260.48 315.97,261.29 316.46,262.14C316.95,262.99 317.41,263.87 317.78,264.79C318.16,265.71 318.48,266.67 318.71,267.64C318.95,268.61 319.11,269.61 319.2,270.61C319.3,271.61 319.32,272.62 319.29,273.62Z"/>
<path d="M321.77,273.71C321.74,274.82 321.64,275.93 321.5,277.02C321.35,278.11 321.14,279.2 320.88,280.27C320.63,281.34 320.31,282.39 319.95,283.43C319.58,284.46 319.16,285.48 318.68,286.46C318.2,287.45 317.67,288.41 317.07,289.32C316.47,290.22 315.8,291.1 315.09,291.91C314.38,292.72 313.6,293.48 312.78,294.17C311.97,294.87 311.1,295.51 310.21,296.09C309.33,296.67 308.4,297.2 307.45,297.67C306.5,298.15 305.52,298.57 304.52,298.93C303.52,299.29 302.5,299.61 301.46,299.83C300.42,300.05 299.34,300.22 298.28,300.27C297.22,300.31 296.13,300.26 295.07,300.1C294.02,299.94 292.96,299.65 291.95,299.3C290.93,298.95 289.94,298.49 288.99,298C288.03,297.5 287.11,296.94 286.21,296.35C285.31,295.75 284.44,295.1 283.6,294.42C282.76,293.74 281.94,293.02 281.15,292.25C280.37,291.49 279.6,290.69 278.87,289.83C278.15,288.98 277.42,288.09 276.81,287.13C276.19,286.17 275.59,285.15 275.16,284.08C274.73,283 274.43,281.84 274.24,280.68C274.06,279.53 274.04,278.33 274.05,277.16C274.06,276 274.17,274.84 274.31,273.71C274.44,272.58 274.64,271.47 274.87,270.37C275.09,269.28 275.37,268.21 275.69,267.16C276,266.1 276.36,265.07 276.77,264.06C277.18,263.06 277.63,262.07 278.13,261.12C278.64,260.16 279.19,259.23 279.78,258.34C280.38,257.46 281.03,256.6 281.73,255.79C282.42,254.98 283.17,254.21 283.96,253.5C284.74,252.79 285.58,252.12 286.44,251.51C287.31,250.91 288.22,250.35 289.15,249.85C290.08,249.35 291.05,248.9 292.04,248.51C293.03,248.11 294.05,247.76 295.09,247.49C296.13,247.23 297.21,246.99 298.28,246.9C299.35,246.81 300.47,246.81 301.53,246.98C302.59,247.15 303.66,247.49 304.67,247.91C305.67,248.32 306.63,248.89 307.55,249.47C308.48,250.04 309.35,250.69 310.2,251.36C311.04,252.03 311.85,252.73 312.62,253.47C313.4,254.21 314.14,254.98 314.84,255.78C315.55,256.58 316.22,257.42 316.84,258.29C317.47,259.16 318.06,260.07 318.59,261.01C319.12,261.96 319.62,262.94 320.03,263.96C320.44,264.97 320.8,266.03 321.07,267.1C321.34,268.17 321.53,269.28 321.64,270.38C321.76,271.48 321.79,272.6 321.77,273.71Z"/>
<path d="M324.27,273.8C324.25,275.02 324.15,276.24 323.99,277.44C323.83,278.64 323.6,279.84 323.31,281.01C323.02,282.18 322.66,283.34 322.25,284.47C321.84,285.59 321.36,286.71 320.82,287.77C320.29,288.84 319.69,289.89 319.02,290.88C318.36,291.86 317.63,292.81 316.85,293.69C316.06,294.58 315.21,295.4 314.32,296.16C313.44,296.92 312.49,297.61 311.51,298.24C310.54,298.87 309.52,299.43 308.48,299.93C307.44,300.42 306.37,300.86 305.28,301.22C304.19,301.59 303.07,301.89 301.94,302.11C300.81,302.33 299.65,302.49 298.5,302.54C297.35,302.58 296.17,302.54 295.03,302.38C293.89,302.22 292.74,301.94 291.63,301.59C290.53,301.23 289.44,300.76 288.4,300.24C287.36,299.72 286.34,299.11 285.37,298.47C284.39,297.82 283.45,297.11 282.54,296.35C281.63,295.6 280.76,294.79 279.93,293.94C279.09,293.09 278.29,292.19 277.54,291.24C276.78,290.29 276.05,289.3 275.41,288.26C274.76,287.21 274.14,286.11 273.66,284.96C273.18,283.8 272.79,282.57 272.54,281.34C272.29,280.11 272.19,278.82 272.14,277.56C272.1,276.31 272.17,275.04 272.28,273.8C272.39,272.56 272.57,271.33 272.8,270.13C273.03,268.93 273.32,267.74 273.66,266.58C274,265.42 274.39,264.28 274.84,263.17C275.29,262.06 275.79,260.98 276.35,259.93C276.91,258.89 277.52,257.87 278.19,256.9C278.86,255.93 279.58,255 280.35,254.12C281.12,253.25 281.95,252.41 282.82,251.65C283.69,250.88 284.62,250.17 285.57,249.52C286.53,248.88 287.53,248.29 288.56,247.77C289.58,247.25 290.65,246.8 291.73,246.41C292.81,246.02 293.93,245.69 295.06,245.44C296.18,245.19 297.34,244.99 298.5,244.91C299.66,244.83 300.85,244.82 302,244.97C303.15,245.12 304.32,245.41 305.42,245.81C306.52,246.2 307.59,246.75 308.61,247.33C309.63,247.91 310.61,248.59 311.55,249.29C312.49,250 313.39,250.76 314.24,251.55C315.1,252.35 315.92,253.2 316.69,254.08C317.46,254.96 318.19,255.89 318.87,256.85C319.55,257.81 320.19,258.82 320.76,259.86C321.34,260.91 321.86,261.99 322.31,263.11C322.76,264.22 323.14,265.38 323.44,266.55C323.74,267.73 323.96,268.94 324.1,270.15C324.24,271.35 324.29,272.58 324.27,273.8Z"/>
</g>
</g>
<polygon points="326.5,216.3 329,216.3 336.6,254.8 337,294 327.4,294" fill="#eedbc0"/>
<polygon points="326.5,216.3 329,216.3 336.6,254.6 326.9,255.6" fill="#673707"/>
</g>
<g id="icon-veneer">
<polygon points="318,427.5 330.4,429.5 335.6,455.5 320,440" fill="#eedbc0" stroke="#673707" stroke-width="1.2" stroke-linejoin="round"/>
<path d="M270.2,460 L276.1,405.5 C277.3,394.5 288.5,387.3 304.2,387.5 L367.4,396.4 L362.8,434.0 L319.4,428.1 L305,462Z" fill="#673707"/>
<ellipse cx="303.1" cy="457.4" rx="32.9" ry="32.5" fill="#673707"/>
<ellipse cx="303.1" cy="457.3" rx="31.2" ry="30.9" fill="#eedbc0"/>
<g fill="none" stroke="#c0a484" stroke-width="0.7">
<circle cx="298.2" cy="456" r="2.9"/>
<path d="M305.58,456.14C305.63,456.44 305.68,456.75 305.7,457.06C305.71,457.37 305.72,457.69 305.67,458C305.62,458.31 305.52,458.62 305.4,458.91C305.27,459.19 305.09,459.46 304.9,459.71C304.71,459.96 304.49,460.19 304.27,460.41C304.05,460.62 303.82,460.83 303.59,461.02C303.36,461.21 303.12,461.39 302.87,461.56C302.62,461.73 302.37,461.89 302.1,462.03C301.84,462.16 301.57,462.29 301.29,462.38C301.01,462.48 300.72,462.56 300.43,462.62C300.15,462.68 299.85,462.71 299.56,462.74C299.27,462.76 298.98,462.77 298.69,462.77C298.4,462.77 298.11,462.76 297.82,462.75C297.52,462.73 297.23,462.71 296.93,462.69C296.63,462.66 296.32,462.63 296,462.6C295.69,462.56 295.36,462.52 295.03,462.45C294.7,462.38 294.35,462.31 294.04,462.18C293.73,462.04 293.41,461.87 293.16,461.65C292.91,461.42 292.71,461.13 292.55,460.83C292.39,460.54 292.28,460.2 292.17,459.89C292.07,459.57 291.99,459.25 291.91,458.94C291.82,458.63 291.75,458.32 291.68,458.01C291.61,457.7 291.54,457.4 291.47,457.09C291.4,456.78 291.33,456.46 291.26,456.14C291.2,455.82 291.12,455.48 291.08,455.14C291.03,454.8 290.98,454.44 290.99,454.08C291,453.73 291.03,453.36 291.15,453.03C291.27,452.7 291.46,452.39 291.68,452.11C291.9,451.84 292.2,451.61 292.47,451.39C292.74,451.17 293.04,450.98 293.33,450.8C293.61,450.61 293.89,450.45 294.18,450.29C294.46,450.12 294.74,449.97 295.03,449.82C295.31,449.68 295.6,449.54 295.89,449.42C296.19,449.3 296.49,449.18 296.79,449.09C297.1,449 297.41,448.92 297.73,448.86C298.04,448.81 298.37,448.78 298.69,448.76C299.01,448.75 299.34,448.76 299.66,448.79C299.99,448.82 300.31,448.86 300.63,448.92C300.95,448.99 301.28,449.06 301.59,449.16C301.9,449.27 302.22,449.39 302.51,449.55C302.8,449.71 303.08,449.91 303.31,450.14C303.55,450.37 303.75,450.64 303.93,450.92C304.11,451.2 304.24,451.51 304.37,451.8C304.49,452.1 304.59,452.4 304.69,452.69C304.78,452.99 304.86,453.27 304.95,453.56C305.03,453.85 305.1,454.13 305.18,454.41C305.25,454.69 305.32,454.97 305.39,455.26C305.46,455.55 305.53,455.84 305.58,456.14Z"/>
<path d="M308.28,456.28C308.33,456.68 308.39,457.08 308.41,457.49C308.43,457.9 308.44,458.32 308.39,458.73C308.33,459.14 308.23,459.56 308.08,459.94C307.92,460.33 307.7,460.69 307.46,461.03C307.22,461.37 306.92,461.67 306.63,461.96C306.34,462.25 306.03,462.52 305.72,462.78C305.4,463.03 305.08,463.27 304.75,463.49C304.42,463.71 304.08,463.92 303.72,464.1C303.37,464.29 303.01,464.45 302.64,464.58C302.27,464.72 301.89,464.82 301.5,464.9C301.12,464.98 300.73,465.03 300.34,465.06C299.96,465.09 299.57,465.1 299.18,465.09C298.79,465.09 298.41,465.06 298.02,465.03C297.63,465 297.25,464.96 296.85,464.91C296.46,464.87 296.06,464.81 295.65,464.75C295.24,464.68 294.82,464.62 294.39,464.52C293.97,464.42 293.51,464.33 293.1,464.16C292.68,463.99 292.24,463.79 291.9,463.52C291.55,463.24 291.25,462.88 291.01,462.51C290.78,462.13 290.62,461.69 290.48,461.27C290.33,460.86 290.24,460.42 290.13,460C290.03,459.58 289.95,459.17 289.87,458.76C289.78,458.35 289.71,457.94 289.63,457.53C289.56,457.12 289.48,456.71 289.41,456.28C289.34,455.85 289.27,455.42 289.22,454.98C289.17,454.53 289.11,454.06 289.12,453.6C289.12,453.14 289.14,452.64 289.27,452.2C289.4,451.76 289.61,451.32 289.88,450.94C290.15,450.57 290.52,450.24 290.88,449.95C291.23,449.65 291.63,449.4 292.02,449.16C292.4,448.92 292.79,448.7 293.17,448.5C293.55,448.29 293.93,448.09 294.31,447.91C294.7,447.72 295.08,447.54 295.47,447.39C295.87,447.23 296.26,447.08 296.67,446.96C297.07,446.84 297.49,446.74 297.91,446.67C298.33,446.6 298.75,446.56 299.18,446.54C299.61,446.53 300.04,446.54 300.46,446.58C300.89,446.62 301.32,446.68 301.74,446.77C302.17,446.86 302.59,446.96 303.01,447.1C303.42,447.23 303.84,447.39 304.23,447.59C304.61,447.8 305,448.04 305.32,448.32C305.65,448.61 305.94,448.96 306.18,449.32C306.43,449.68 306.62,450.08 306.79,450.48C306.96,450.87 307.09,451.27 307.22,451.67C307.34,452.06 307.45,452.45 307.55,452.84C307.65,453.22 307.73,453.6 307.82,453.98C307.91,454.36 307.99,454.73 308.07,455.12C308.14,455.5 308.22,455.88 308.28,456.28Z"/>
<path d="M310.98,456.42C311.04,456.91 311.1,457.41 311.11,457.92C311.13,458.42 311.14,458.95 311.08,459.45C311.02,459.96 310.92,460.49 310.74,460.97C310.57,461.46 310.31,461.93 310.03,462.35C309.74,462.78 309.38,463.17 309.02,463.54C308.66,463.91 308.26,464.24 307.87,464.56C307.47,464.87 307.06,465.17 306.65,465.44C306.23,465.72 305.8,465.98 305.36,466.2C304.92,466.43 304.47,466.64 304.01,466.81C303.54,466.98 303.06,467.12 302.59,467.22C302.11,467.32 301.62,467.39 301.13,467.42C300.64,467.46 300.15,467.46 299.67,467.45C299.19,467.44 298.7,467.4 298.22,467.35C297.74,467.3 297.26,467.23 296.77,467.16C296.28,467.08 295.8,467 295.3,466.9C294.8,466.8 294.29,466.69 293.77,466.56C293.26,466.42 292.71,466.29 292.2,466.09C291.68,465.88 291.14,465.66 290.69,465.34C290.24,465.02 289.82,464.61 289.5,464.17C289.18,463.72 288.96,463.18 288.77,462.67C288.57,462.15 288.46,461.61 288.33,461.08C288.21,460.55 288.12,460.03 288.03,459.51C287.94,459 287.86,458.49 287.79,457.97C287.71,457.46 287.64,456.95 287.58,456.42C287.51,455.89 287.45,455.36 287.4,454.82C287.36,454.27 287.31,453.7 287.32,453.14C287.33,452.57 287.34,451.96 287.48,451.41C287.61,450.85 287.82,450.28 288.12,449.8C288.42,449.32 288.85,448.89 289.28,448.51C289.71,448.12 290.21,447.81 290.69,447.51C291.17,447.2 291.66,446.94 292.14,446.69C292.63,446.43 293.11,446.2 293.59,445.97C294.08,445.75 294.56,445.54 295.05,445.35C295.54,445.17 296.04,444.99 296.55,444.85C297.05,444.7 297.57,444.58 298.09,444.49C298.61,444.41 299.14,444.35 299.67,444.33C300.2,444.31 300.74,444.33 301.27,444.38C301.8,444.43 302.33,444.52 302.85,444.63C303.38,444.74 303.9,444.88 304.41,445.05C304.93,445.22 305.44,445.42 305.93,445.66C306.41,445.91 306.9,446.19 307.32,446.53C307.73,446.87 308.12,447.28 308.44,447.71C308.77,448.14 309.02,448.64 309.25,449.12C309.47,449.61 309.64,450.12 309.8,450.62C309.96,451.11 310.08,451.61 310.2,452.09C310.31,452.58 310.41,453.06 310.51,453.54C310.6,454.02 310.69,454.49 310.77,454.97C310.85,455.45 310.92,455.93 310.98,456.42Z"/>
<path d="M313.71,456.56C313.76,457.15 313.81,457.74 313.82,458.34C313.82,458.95 313.83,459.56 313.75,460.17C313.68,460.78 313.58,461.41 313.39,461.99C313.19,462.58 312.92,463.15 312.59,463.68C312.26,464.2 311.85,464.68 311.42,465.13C311,465.58 310.52,465.98 310.04,466.36C309.57,466.74 309.07,467.09 308.57,467.42C308.06,467.75 307.54,468.06 307.01,468.33C306.48,468.6 305.94,468.85 305.38,469.06C304.83,469.27 304.25,469.44 303.67,469.57C303.1,469.7 302.51,469.78 301.92,469.83C301.34,469.87 300.74,469.88 300.16,469.86C299.58,469.84 298.99,469.78 298.41,469.71C297.83,469.64 297.26,469.54 296.68,469.43C296.1,469.32 295.53,469.2 294.94,469.06C294.35,468.91 293.76,468.76 293.16,468.58C292.56,468.4 291.93,468.22 291.33,467.97C290.73,467.72 290.08,467.46 289.53,467.1C288.98,466.73 288.44,466.3 288.03,465.79C287.62,465.28 287.31,464.66 287.06,464.06C286.81,463.46 286.66,462.8 286.51,462.17C286.37,461.53 286.27,460.9 286.17,460.28C286.08,459.65 286,459.04 285.93,458.42C285.86,457.8 285.8,457.19 285.74,456.56C285.69,455.93 285.64,455.31 285.62,454.66C285.59,454.02 285.56,453.36 285.59,452.69C285.61,452.02 285.63,451.32 285.77,450.65C285.91,449.99 286.11,449.3 286.43,448.7C286.75,448.11 287.22,447.56 287.71,447.08C288.19,446.61 288.79,446.22 289.36,445.85C289.92,445.48 290.52,445.17 291.11,444.86C291.69,444.56 292.28,444.29 292.86,444.03C293.45,443.77 294.03,443.53 294.63,443.31C295.22,443.09 295.82,442.89 296.42,442.73C297.03,442.56 297.65,442.42 298.27,442.32C298.89,442.22 299.53,442.15 300.16,442.13C300.79,442.11 301.43,442.14 302.07,442.2C302.7,442.26 303.33,442.37 303.96,442.51C304.58,442.64 305.2,442.82 305.81,443.03C306.42,443.24 307.03,443.47 307.61,443.76C308.19,444.05 308.77,444.37 309.29,444.77C309.8,445.16 310.29,445.61 310.69,446.11C311.1,446.61 311.44,447.19 311.73,447.76C312.01,448.33 312.22,448.95 312.42,449.54C312.61,450.14 312.76,450.74 312.9,451.33C313.03,451.92 313.14,452.5 313.25,453.08C313.35,453.66 313.44,454.24 313.52,454.82C313.59,455.4 313.66,455.97 313.71,456.56Z"/>
<path d="M316.48,456.7C316.52,457.39 316.55,458.08 316.54,458.77C316.53,459.47 316.51,460.18 316.42,460.89C316.33,461.59 316.22,462.32 316.01,463C315.79,463.69 315.51,464.37 315.15,464.99C314.78,465.61 314.32,466.2 313.84,466.73C313.35,467.26 312.8,467.74 312.24,468.19C311.69,468.64 311.1,469.05 310.51,469.43C309.91,469.81 309.31,470.17 308.68,470.49C308.06,470.81 307.42,471.1 306.77,471.34C306.12,471.59 305.45,471.79 304.77,471.95C304.1,472.1 303.4,472.21 302.72,472.27C302.03,472.33 301.34,472.33 300.65,472.31C299.96,472.28 299.28,472.21 298.6,472.12C297.92,472.02 297.25,471.89 296.58,471.75C295.91,471.6 295.24,471.43 294.57,471.24C293.9,471.06 293.22,470.85 292.54,470.62C291.86,470.38 291.16,470.14 290.48,469.84C289.79,469.53 289.07,469.22 288.43,468.81C287.79,468.4 287.14,467.93 286.63,467.36C286.12,466.8 285.71,466.12 285.38,465.43C285.06,464.75 284.87,463.99 284.69,463.25C284.5,462.52 284.4,461.77 284.29,461.04C284.19,460.31 284.12,459.59 284.05,458.87C283.99,458.14 283.94,457.43 283.9,456.7C283.87,455.97 283.84,455.25 283.84,454.51C283.84,453.77 283.84,453.01 283.89,452.25C283.94,451.49 283.99,450.69 284.15,449.93C284.31,449.16 284.5,448.36 284.84,447.65C285.18,446.95 285.65,446.27 286.18,445.7C286.71,445.12 287.38,444.64 288.03,444.2C288.68,443.75 289.38,443.38 290.07,443.03C290.75,442.68 291.44,442.36 292.13,442.07C292.81,441.77 293.5,441.5 294.2,441.26C294.89,441.02 295.59,440.79 296.3,440.61C297.01,440.42 297.73,440.26 298.45,440.15C299.18,440.04 299.91,439.96 300.65,439.94C301.39,439.92 302.13,439.95 302.87,440.02C303.6,440.1 304.34,440.23 305.06,440.39C305.78,440.56 306.5,440.77 307.2,441.02C307.91,441.27 308.61,441.55 309.28,441.89C309.95,442.22 310.62,442.59 311.23,443.03C311.84,443.48 312.43,443.98 312.92,444.54C313.42,445.1 313.84,445.74 314.2,446.39C314.56,447.05 314.83,447.76 315.07,448.45C315.31,449.14 315.48,449.85 315.64,450.55C315.8,451.24 315.93,451.93 316.04,452.61C316.15,453.3 316.24,453.98 316.31,454.66C316.39,455.34 316.44,456.01 316.48,456.7Z"/>
<path d="M319.3,456.84C319.32,457.63 319.33,458.41 319.3,459.21C319.26,460 319.21,460.81 319.1,461.61C318.99,462.41 318.85,463.23 318.61,464.01C318.37,464.79 318.07,465.58 317.68,466.3C317.29,467.02 316.79,467.7 316.25,468.32C315.71,468.95 315.09,469.51 314.46,470.03C313.83,470.55 313.15,471.03 312.47,471.47C311.79,471.91 311.09,472.31 310.37,472.67C309.65,473.04 308.92,473.37 308.17,473.65C307.42,473.93 306.65,474.18 305.88,474.36C305.1,474.54 304.31,474.67 303.52,474.74C302.73,474.82 301.93,474.83 301.14,474.8C300.35,474.77 299.56,474.69 298.78,474.57C298,474.46 297.23,474.3 296.47,474.12C295.7,473.93 294.94,473.72 294.18,473.48C293.42,473.24 292.67,472.97 291.91,472.67C291.15,472.38 290.39,472.06 289.63,471.7C288.87,471.34 288.09,470.96 287.36,470.49C286.64,470.02 285.89,469.5 285.29,468.88C284.69,468.27 284.16,467.54 283.76,466.78C283.36,466.02 283.1,465.16 282.87,464.34C282.64,463.51 282.52,462.65 282.4,461.81C282.28,460.98 282.21,460.15 282.15,459.32C282.09,458.49 282.06,457.67 282.05,456.84C282.03,456.01 282.04,455.19 282.07,454.35C282.09,453.52 282.14,452.67 282.22,451.82C282.31,450.96 282.4,450.09 282.59,449.23C282.77,448.37 282.98,447.47 283.34,446.66C283.7,445.85 284.16,445.05 284.73,444.37C285.3,443.69 286.02,443.1 286.74,442.57C287.45,442.04 288.25,441.61 289.03,441.2C289.8,440.79 290.6,440.44 291.39,440.1C292.17,439.77 292.97,439.47 293.76,439.2C294.56,438.93 295.36,438.68 296.17,438.48C296.99,438.28 297.81,438.1 298.63,437.98C299.46,437.86 300.3,437.78 301.14,437.76C301.98,437.74 302.83,437.77 303.66,437.86C304.5,437.95 305.34,438.1 306.16,438.29C306.98,438.48 307.79,438.73 308.59,439.02C309.39,439.31 310.18,439.65 310.94,440.03C311.7,440.42 312.45,440.84 313.15,441.34C313.85,441.83 314.53,442.38 315.12,443C315.7,443.61 316.23,444.32 316.66,445.04C317.1,445.77 317.44,446.57 317.73,447.35C318.03,448.14 318.24,448.95 318.43,449.75C318.62,450.54 318.76,451.34 318.88,452.13C319,452.92 319.09,453.7 319.16,454.49C319.23,455.27 319.28,456.05 319.3,456.84Z"/>
<path d="M322.18,456.98C322.19,457.87 322.16,458.76 322.1,459.65C322.04,460.54 321.95,461.44 321.81,462.33C321.66,463.23 321.48,464.14 321.22,465.01C320.95,465.89 320.62,466.78 320.19,467.59C319.77,468.41 319.24,469.2 318.65,469.91C318.07,470.63 317.38,471.28 316.68,471.88C315.98,472.48 315.22,473.02 314.45,473.52C313.68,474.02 312.88,474.48 312.07,474.89C311.26,475.3 310.43,475.68 309.58,476C308.74,476.32 307.87,476.59 306.99,476.8C306.12,477.01 305.22,477.17 304.33,477.26C303.43,477.35 302.52,477.37 301.63,477.34C300.74,477.31 299.84,477.22 298.96,477.09C298.07,476.95 297.2,476.76 296.34,476.54C295.47,476.32 294.62,476.05 293.77,475.76C292.93,475.46 292.09,475.14 291.26,474.77C290.42,474.41 289.59,474.02 288.76,473.58C287.94,473.15 287.1,472.69 286.31,472.15C285.52,471.61 284.7,471.04 284.02,470.36C283.33,469.68 282.69,468.91 282.2,468.09C281.72,467.26 281.37,466.32 281.09,465.41C280.81,464.49 280.65,463.52 280.51,462.58C280.37,461.64 280.3,460.7 280.24,459.77C280.18,458.83 280.16,457.91 280.17,456.98C280.18,456.05 280.21,455.13 280.27,454.2C280.34,453.26 280.42,452.33 280.56,451.39C280.69,450.45 280.83,449.49 281.06,448.54C281.29,447.6 281.53,446.62 281.92,445.71C282.3,444.81 282.78,443.89 283.37,443.11C283.97,442.32 284.72,441.62 285.49,441C286.26,440.38 287.15,439.87 288.01,439.4C288.86,438.92 289.76,438.52 290.65,438.14C291.53,437.76 292.43,437.43 293.33,437.13C294.23,436.83 295.13,436.57 296.05,436.35C296.96,436.13 297.89,435.95 298.82,435.82C299.75,435.69 300.69,435.61 301.63,435.59C302.57,435.57 303.52,435.6 304.46,435.7C305.4,435.81 306.34,435.97 307.25,436.2C308.17,436.42 309.08,436.7 309.97,437.04C310.86,437.37 311.74,437.76 312.58,438.2C313.43,438.63 314.27,439.12 315.05,439.66C315.83,440.21 316.6,440.81 317.27,441.49C317.95,442.16 318.57,442.92 319.09,443.71C319.61,444.51 320.03,445.39 320.39,446.26C320.75,447.13 321.01,448.04 321.24,448.94C321.47,449.83 321.63,450.74 321.77,451.64C321.91,452.53 322,453.42 322.07,454.32C322.14,455.21 322.17,456.09 322.18,456.98Z"/>
<path d="M325.12,457.12C325.11,458.11 325.06,459.11 324.97,460.1C324.87,461.09 324.75,462.08 324.56,463.07C324.37,464.06 324.15,465.06 323.84,466.02C323.53,466.99 323.16,467.97 322.7,468.88C322.23,469.79 321.67,470.68 321.04,471.49C320.41,472.3 319.67,473.05 318.9,473.73C318.13,474.41 317.29,475.03 316.44,475.59C315.59,476.16 314.7,476.67 313.79,477.14C312.89,477.6 311.96,478.02 311.01,478.37C310.07,478.73 309.1,479.04 308.12,479.28C307.14,479.52 306.14,479.7 305.14,479.81C304.14,479.92 303.12,479.95 302.12,479.93C301.12,479.9 300.11,479.8 299.12,479.65C298.14,479.5 297.16,479.28 296.19,479.02C295.23,478.76 294.28,478.45 293.34,478.1C292.4,477.75 291.48,477.36 290.57,476.93C289.66,476.49 288.76,476.02 287.87,475.51C286.98,474.99 286.09,474.44 285.25,473.82C284.4,473.21 283.53,472.56 282.78,471.81C282.03,471.06 281.3,470.24 280.73,469.35C280.16,468.45 279.71,467.45 279.37,466.45C279.02,465.45 278.82,464.39 278.64,463.35C278.47,462.31 278.38,461.26 278.32,460.22C278.26,459.18 278.25,458.15 278.27,457.12C278.3,456.09 278.36,455.06 278.46,454.04C278.56,453.01 278.69,451.98 278.88,450.95C279.06,449.93 279.27,448.89 279.55,447.86C279.83,446.84 280.13,445.79 280.56,444.8C280.99,443.81 281.48,442.8 282.1,441.92C282.73,441.03 283.5,440.21 284.32,439.5C285.14,438.78 286.08,438.19 287.02,437.64C287.95,437.09 288.94,436.63 289.92,436.2C290.9,435.77 291.89,435.4 292.89,435.07C293.89,434.74 294.9,434.45 295.92,434.21C296.94,433.98 297.97,433.78 299,433.65C300.03,433.51 301.08,433.43 302.12,433.41C303.16,433.4 304.22,433.44 305.25,433.56C306.29,433.67 307.33,433.86 308.35,434.11C309.36,434.36 310.37,434.68 311.35,435.06C312.33,435.44 313.29,435.88 314.22,436.37C315.15,436.86 316.07,437.41 316.93,438.01C317.79,438.62 318.64,439.28 319.4,440.02C320.15,440.75 320.87,441.56 321.47,442.42C322.07,443.28 322.59,444.23 323.02,445.18C323.45,446.13 323.77,447.14 324.05,448.13C324.33,449.12 324.52,450.13 324.69,451.13C324.85,452.13 324.96,453.14 325.03,454.13C325.1,455.13 325.13,456.13 325.12,457.12Z"/>
<path d="M328.12,457.26C328.1,458.36 328.03,459.46 327.9,460.56C327.78,461.65 327.6,462.74 327.37,463.83C327.14,464.91 326.86,465.99 326.49,467.05C326.13,468.11 325.72,469.17 325.2,470.17C324.69,471.17 324.09,472.16 323.41,473.06C322.73,473.96 321.94,474.8 321.11,475.57C320.28,476.34 319.37,477.03 318.44,477.67C317.51,478.31 316.52,478.88 315.53,479.4C314.53,479.92 313.5,480.38 312.45,480.78C311.41,481.18 310.33,481.52 309.25,481.79C308.17,482.06 307.06,482.27 305.95,482.39C304.85,482.52 303.72,482.57 302.61,482.55C301.5,482.53 300.38,482.42 299.28,482.26C298.19,482.09 297.1,481.85 296.03,481.56C294.96,481.27 293.91,480.91 292.88,480.51C291.85,480.11 290.84,479.65 289.85,479.14C288.85,478.64 287.88,478.08 286.93,477.48C285.98,476.88 285.05,476.23 284.15,475.53C283.26,474.82 282.36,474.08 281.55,473.25C280.75,472.42 279.96,471.53 279.32,470.57C278.68,469.61 278.14,468.54 277.72,467.46C277.3,466.38 277.04,465.23 276.82,464.1C276.6,462.97 276.49,461.81 276.41,460.67C276.34,459.53 276.33,458.39 276.37,457.26C276.4,456.13 276.49,455 276.62,453.87C276.76,452.75 276.94,451.63 277.17,450.51C277.41,449.4 277.68,448.28 278.03,447.18C278.37,446.08 278.75,444.97 279.23,443.9C279.72,442.84 280.25,441.76 280.92,440.79C281.59,439.82 282.37,438.89 283.23,438.08C284.09,437.27 285.09,436.57 286.08,435.94C287.08,435.31 288.15,434.78 289.21,434.3C290.28,433.81 291.37,433.39 292.47,433.02C293.56,432.65 294.67,432.34 295.79,432.08C296.91,431.82 298.04,431.61 299.18,431.47C300.32,431.33 301.47,431.25 302.61,431.24C303.75,431.23 304.91,431.28 306.05,431.41C307.19,431.55 308.33,431.75 309.44,432.03C310.55,432.31 311.66,432.67 312.73,433.09C313.8,433.51 314.85,434 315.86,434.55C316.87,435.1 317.86,435.71 318.8,436.38C319.74,437.05 320.65,437.78 321.49,438.58C322.32,439.37 323.12,440.24 323.8,441.17C324.49,442.09 325.09,443.1 325.6,444.12C326.11,445.15 326.51,446.24 326.84,447.33C327.18,448.41 327.43,449.52 327.62,450.63C327.82,451.73 327.95,452.84 328.03,453.95C328.12,455.05 328.14,456.16 328.12,457.26Z"/>
<path d="M331.17,457.4C331.15,458.61 331.06,459.82 330.9,461.02C330.75,462.22 330.53,463.42 330.25,464.6C329.97,465.78 329.63,466.95 329.21,468.1C328.79,469.25 328.3,470.39 327.73,471.47C327.16,472.56 326.51,473.63 325.77,474.61C325.03,475.6 324.2,476.54 323.31,477.39C322.42,478.25 321.44,479.03 320.43,479.75C319.42,480.46 318.35,481.1 317.27,481.68C316.18,482.26 315.05,482.77 313.91,483.21C312.76,483.65 311.58,484.03 310.39,484.33C309.2,484.63 307.99,484.86 306.77,485.01C305.56,485.15 304.32,485.22 303.1,485.21C301.88,485.19 300.65,485.09 299.44,484.91C298.23,484.74 297.03,484.48 295.85,484.16C294.68,483.84 293.52,483.44 292.39,482.98C291.26,482.53 290.16,482 289.08,481.43C288.01,480.85 286.96,480.21 285.95,479.52C284.94,478.83 283.95,478.08 283.01,477.28C282.07,476.48 281.15,475.63 280.3,474.71C279.46,473.79 278.64,472.81 277.95,471.77C277.26,470.72 276.64,469.6 276.16,468.44C275.68,467.29 275.34,466.05 275.06,464.83C274.79,463.61 274.64,462.36 274.54,461.12C274.44,459.88 274.42,458.64 274.46,457.4C274.5,456.16 274.6,454.93 274.76,453.71C274.93,452.49 275.15,451.27 275.44,450.07C275.72,448.86 276.07,447.67 276.48,446.49C276.89,445.31 277.36,444.14 277.91,443.01C278.46,441.88 279.08,440.75 279.8,439.71C280.52,438.66 281.33,437.65 282.24,436.76C283.14,435.86 284.17,435.06 285.22,434.34C286.27,433.63 287.41,433.01 288.55,432.46C289.69,431.9 290.87,431.43 292.05,431.01C293.24,430.59 294.45,430.24 295.67,429.96C296.89,429.67 298.12,429.45 299.36,429.3C300.6,429.15 301.85,429.06 303.1,429.06C304.35,429.06 305.6,429.12 306.84,429.27C308.08,429.42 309.32,429.65 310.53,429.96C311.74,430.27 312.94,430.66 314.1,431.12C315.26,431.58 316.4,432.13 317.49,432.73C318.59,433.34 319.65,434.01 320.66,434.75C321.68,435.49 322.66,436.29 323.56,437.16C324.46,438.02 325.33,438.95 326.09,439.95C326.85,440.94 327.54,442.01 328.12,443.1C328.71,444.2 329.19,445.37 329.6,446.54C330,447.71 330.31,448.92 330.55,450.12C330.8,451.32 330.96,452.54 331.06,453.76C331.17,454.97 331.2,456.19 331.17,457.4Z"/>
</g>
</g>
</g>
<g id="grid" stroke="#312f2f" stroke-width="1.8" fill="none" stroke-linecap="square" filter="url(#txtsoft)">
<rect x="196.4" y="59.8" width="799.7" height="501.8"/>
<line x1="419.7" y1="59.8" x2="419.7" y2="561.6"/>
<line x1="707.7" y1="59.8" x2="707.7" y2="561.6"/>
<line x1="196.4" y1="191.5" x2="996.1" y2="191.5"/>
<line x1="196.4" y1="376.7" x2="996.1" y2="376.7"/>
<line x1="196.4" y1="59.8" x2="419.7" y2="191.5" stroke-linecap="butt"/>
</g>
<g id="labels" opacity="0.999" filter="url(#txtsoft)">
<text class="jp" x="307.31" y="107.63" font-size="21.4" fill="#838383">繊維方向</text>
<text class="jp" x="225.55" y="159.13" font-size="21" fill="#838383">原料</text>
<text class="jp" x="595.12" y="148.63" font-size="21" fill="#5a5a5a">平行</text>
<text class="en" transform="translate(573.91 169.6) scale(1.1949 1)" font-size="22" fill="#5a5a5a" textLength="70.93" lengthAdjust="spacingAndGlyphs" stroke="#5a5a5a" stroke-width="0.5" stroke-linejoin="round">parallel</text>
<text class="jp" x="900.01" y="148.64" font-size="21" fill="#5a5a5a">直交</text>
<text class="en" transform="translate(889.16 170.1) scale(1.2177 1)" font-size="22" fill="#5a5a5a" textLength="52.56" lengthAdjust="spacingAndGlyphs" stroke="#5a5a5a" stroke-width="0.5" stroke-linejoin="round">cross</text>
<text class="jp" x="608.58" y="278.42" font-size="21" fill="#5a5a5a">集成材</text>
<text class="en" transform="translate(583.34 300.3) scale(1.1893 1)" font-size="22" fill="#5a5a5a" textLength="95.39" lengthAdjust="spacingAndGlyphs" stroke="#5a5a5a" stroke-width="0.5" stroke-linejoin="round">laminated</text>
<text class="en" transform="translate(610.84 322) scale(1.1600 1)" font-size="22" fill="#5a5a5a" textLength="52.59" lengthAdjust="spacingAndGlyphs" stroke="#5a5a5a" stroke-width="0.5" stroke-linejoin="round">wood</text>
<text class="en" transform="translate(898.85 302.7) scale(0.9858 1)" font-size="29" fill="#5a5a5a" textLength="54.79" lengthAdjust="spacingAndGlyphs" stroke="#5a5a5a" stroke-width="0.7" stroke-linejoin="round">CLT</text>
<text class="en" transform="translate(589.75 479) scale(1.0299 1)" font-size="29" fill="#5a5a5a" textLength="51.6" lengthAdjust="spacingAndGlyphs" stroke="#5a5a5a" stroke-width="0.7" stroke-linejoin="round">LVL</text>
<text class="jp" x="905.08" y="466.95" font-size="20.8" fill="#5a5a5a">合板</text>
<text class="en" transform="translate(882.78 485.8) scale(1.2414 1)" font-size="19" fill="#5a5a5a" textLength="69.71" lengthAdjust="spacingAndGlyphs" stroke="#5a5a5a" stroke-width="0.5" stroke-linejoin="round">plywood</text>
<text class="jp" x="272.03" y="340.82" font-size="21" fill="#838383">ひき板</text>
<text class="en" transform="translate(266.11 363) scale(1.1401 1)" font-size="22" fill="#838383" textLength="64.81" lengthAdjust="spacingAndGlyphs" stroke="#838383" stroke-width="0.5" stroke-linejoin="round">lamina</text>
<text class="jp" x="282.89" y="522.99" font-size="21" fill="#838383">単板</text>
<text class="en" transform="translate(265.11 544.6) scale(1.1612 1)" font-size="22" fill="#838383" textLength="67.27" lengthAdjust="spacingAndGlyphs" stroke="#838383" stroke-width="0.5" stroke-linejoin="round">veneer</text>
<text class="jp" x="68.84" y="351.77" font-size="20.7" fill="#5a5a5a">丸太</text>
<text class="jp" x="68.62" y="533.55" font-size="21.2" fill="#5a5a5a">製材</text>
<text class="jp credit" x="791.5" y="627.64" font-size="13" fill="#5a5a5a">藤寿産業株式会社</text>
<text class="jp credit" x="896.5" y="627.5" font-size="13.8" fill="#5a5a5a">HP</text>
<text class="jp credit" x="916.99" y="627.55" font-size="12.9" fill="#5a5a5a">をもとに作成</text>
</g>
</svg>
</body>
</html>
